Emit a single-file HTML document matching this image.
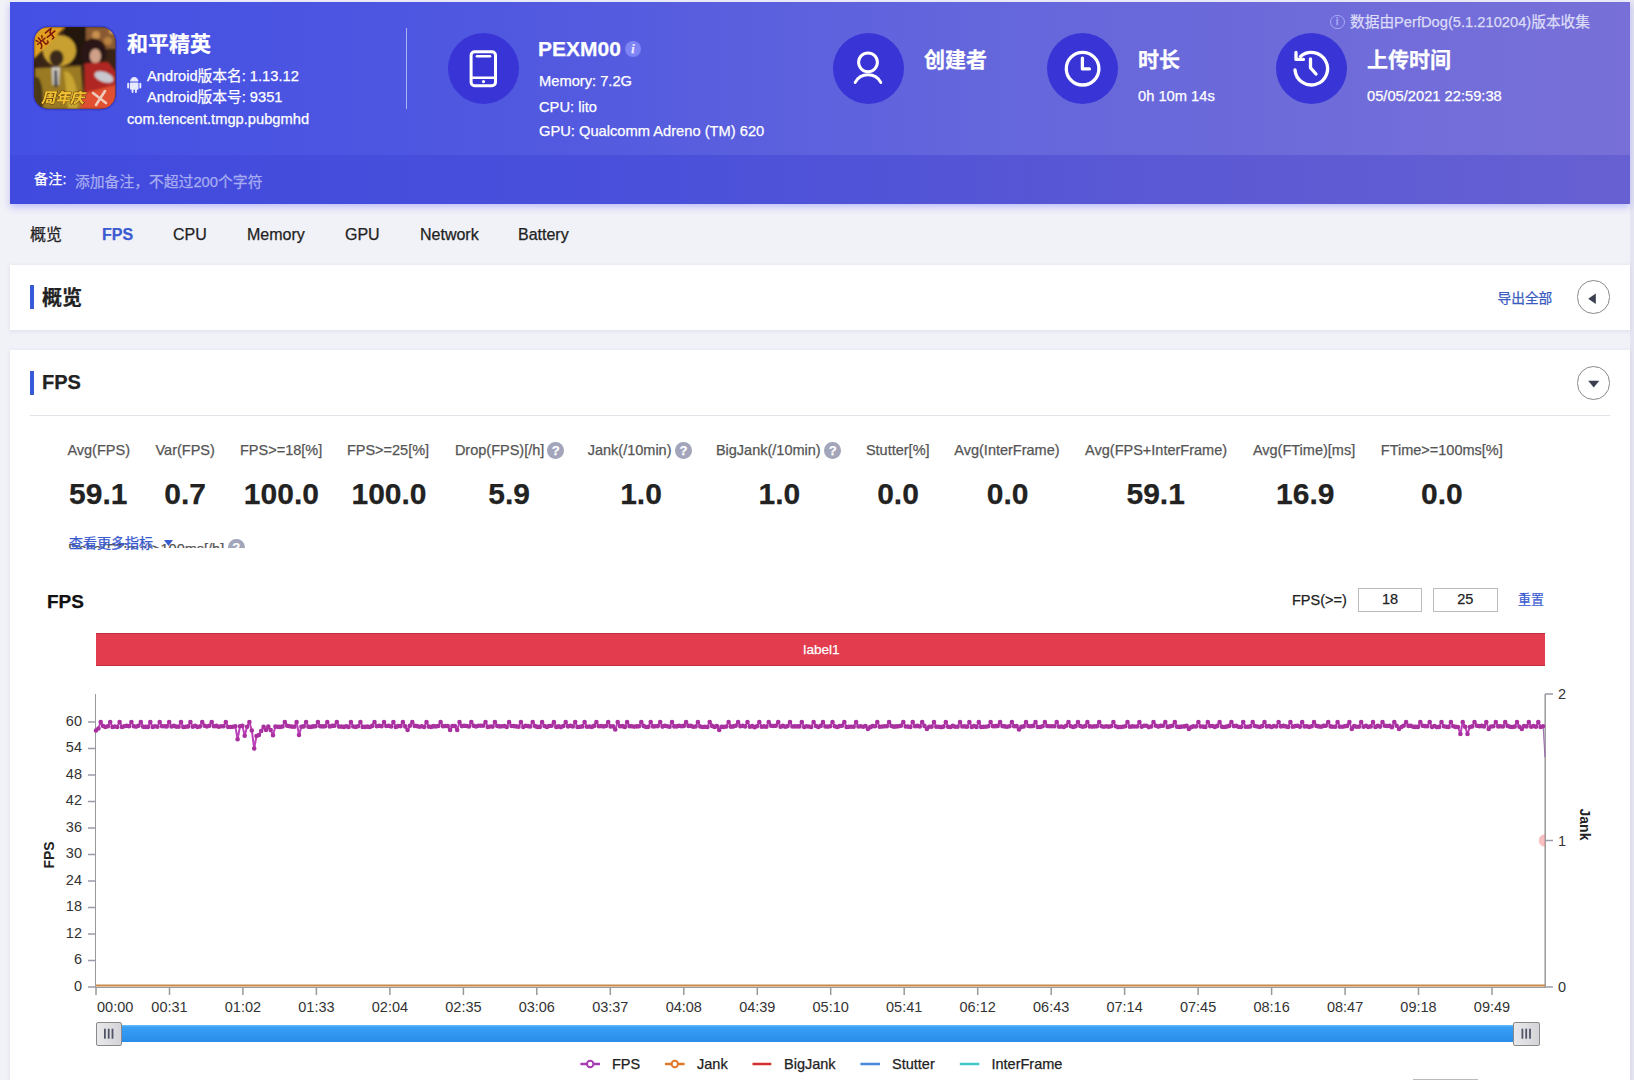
<!DOCTYPE html>
<html><head><meta charset="utf-8">
<style>
*{margin:0;padding:0;box-sizing:border-box}
html,body{width:1634px;height:1080px;overflow:hidden}
body{-webkit-text-stroke:0.25px currentColor;background:#f1f1f8;font-family:"Liberation Sans","Noto Sans CJK SC",sans-serif;color:#333;position:relative}
.abs{position:absolute;white-space:nowrap}
#hdr{position:absolute;left:10px;top:1.7px;width:1620px;height:202px;background:linear-gradient(90deg,#4450e4 0%,#5058e0 30%,#6466dc 60%,#7870d8 100%);box-shadow:0 3px 7px rgba(110,110,250,.4)}
#note{position:absolute;left:0;top:153.1px;width:1620px;height:48.9px;background:linear-gradient(90deg,#404ade 0%,#4a50da 40%,#5a58d4 70%,#6660d2 100%)}
.w{color:#fff}
.circ{position:absolute;width:71px;height:71px;border-radius:50%;background:#3834d6}
.card{position:absolute;left:10px;width:1620px;background:#fff;box-shadow:0 1px 4px rgba(120,120,170,.18)}
.bar{position:absolute;width:4px;height:24px;background:#3a5bd9}
.tab{position:absolute;top:226px;font-size:16px;color:#222}
.lbl{font-size:14.5px;color:#555;line-height:17px}
.val{font-size:30px;font-weight:bold;color:#222;line-height:34px}
.mi{text-align:center}
.mi .val{margin-top:17px}
.legend{top:1055.7px;font-size:14.5px;color:#222}
.q{width:16.5px;height:16.5px;border-radius:50%;background:#a3a6bb;color:#fff;font-size:13px;font-weight:bold;text-align:center;line-height:17px}
</style></head>
<body>
<div class="abs" style="left:1630px;top:0;width:4px;height:1080px;background:#e5e5f2"></div>
<div id="hdr">
  <div id="note"></div>
</div>

<!-- header content in page coords -->
<svg class="abs" style="left:32px;top:25px" width="86" height="86" viewBox="-2 -2 86 86">
<defs>
<clipPath id="ic"><rect x="0" y="0" width="81.5" height="82" rx="15"/></clipPath>
<filter id="bl" x="-10%" y="-10%" width="120%" height="120%"><feGaussianBlur stdDeviation="1.3"/></filter>
<filter id="bl2"><feGaussianBlur stdDeviation="0.5"/></filter>
</defs>
<rect x="-1.5" y="-1.5" width="84.5" height="85" rx="16.5" fill="#3030b8" opacity="0.55"/>
<g clip-path="url(#ic)">
<rect x="0" y="0" width="82" height="82" fill="#3a2416"/>
<g filter="url(#bl)">
<rect x="52" y="0" width="30" height="22" fill="#8a5a30"/>
<circle cx="62" cy="8" r="4" fill="#c89050"/><circle cx="74" cy="14" r="4" fill="#b88040"/><circle cx="78" cy="4" r="3" fill="#d8a060"/>
<rect x="30" y="0" width="22" height="38" fill="#22140e"/>
<path d="M1,41 L47,39 L50,82 L0,82 Z" fill="#9a7a24"/>
<path d="M1,50 C6,48 10,60 9,82 L0,82 Z" fill="#4a3818"/>
<path d="M30,44 C38,44 44,56 44,82 L34,82 Z" fill="#c8a432"/>
<ellipse cx="25.3" cy="23.6" rx="16.7" ry="15.7" fill="#c8a030"/>
<ellipse cx="22.5" cy="31" rx="7" ry="8" fill="#3a2a1a"/>
<path d="M17.5,40 L26,40 L25,58 L18.5,58 Z" fill="#cfcbc2"/>
<path d="M20.5,43 L23,43 L23.5,60 L20.5,60 Z" fill="#2a2a3a"/>
<ellipse cx="59.5" cy="25.4" rx="13" ry="13.9" fill="#2a1812"/>
<ellipse cx="61.4" cy="29.1" rx="5.6" ry="7.4" fill="#d0a088"/>
<path d="M50.3,36.5 L74.3,34.7 L82,44.9 L82,67 L50.3,67 Z" fill="#b02820"/>
<ellipse cx="70" cy="50" rx="10" ry="5" transform="rotate(20 70 50)" fill="#c8c8d0"/>
<path d="M46.6,67 L82,57.8 L82,82 L46.6,82 Z" fill="#e05030"/>
<path d="M0,0 L31,0 L0,32 Z" fill="#e0a020"/>
</g>
<g filter="url(#bl2)">
<path d="M59,66 L72,76 M71,64 L62,78" stroke="#f0d8cc" stroke-width="2.6" stroke-linecap="round" opacity="0.9"/>
<text x="6" y="22" transform="rotate(-40 6 22)" font-size="12" font-weight="bold" fill="#7a1208" font-family="'Noto Sans CJK SC',sans-serif">光子</text>
<text x="7" y="76" font-size="14.5" font-weight="900" fill="#f0c030" stroke="#4a2a08" stroke-width="0.8" paint-order="stroke" font-style="italic" font-family="'Noto Sans CJK SC',sans-serif">周年庆</text>
</g>
</g>
</svg>
<div class="abs w" style="left:127px;top:26.5px;font-size:21px;font-weight:bold">和平精英</div>
<svg class="abs" style="left:126px;top:76px" width="16" height="18" viewBox="126 76 16 18" fill="#e8e8ff">
<path d="M130,81.6 A4.25,4.5 0 0 1 138.5,81.6 Z"/>
<rect x="130" y="82.6" width="8.5" height="7.2" rx="0.8"/>
<rect x="127.2" y="82.8" width="2" height="5.6" rx="1"/>
<rect x="139.3" y="82.8" width="2" height="5.6" rx="1"/>
<rect x="131.6" y="89" width="1.9" height="4" rx="0.9"/>
<rect x="135" y="89" width="1.9" height="4" rx="0.9"/>
</svg>
<div class="abs w" style="left:147px;top:64px;font-size:14.7px">Android版本名: 1.13.12</div>
<div class="abs w" style="left:147px;top:85px;font-size:14.7px">Android版本号: 9351</div>
<div class="abs w" style="left:127px;top:111px;font-size:14.7px">com.tencent.tmgp.pubgmhd</div>
<div class="abs" style="left:406px;top:28px;width:1px;height:81px;background:rgba(255,255,255,.55)"></div>

<div class="circ" style="left:448px;top:33px"></div>
<svg class="abs" style="left:448px;top:33px" width="71" height="71" viewBox="448 33 71 71" fill="none" stroke="#fff" stroke-linecap="round">
<rect x="471.1" y="51.7" width="24.4" height="34.1" rx="3.5" stroke-width="3"/>
<line x1="477" y1="56.2" x2="490" y2="56.2" stroke-width="2.6"/>
<line x1="471.5" y1="77.8" x2="495" y2="77.8" stroke-width="2.6"/>
<circle cx="483.5" cy="81.6" r="1.6" fill="#fff" stroke="none"/>
</svg>
<div class="abs w" style="left:538px;top:37px;font-size:21px;font-weight:bold">PEXM00</div>
<div class="abs" style="left:625px;top:40.5px;width:16px;height:16px;border-radius:50%;background:#7f84f4;color:#eef;font:italic bold 12px/16px 'Liberation Serif',serif;text-align:center">i</div>
<div class="abs w" style="left:539px;top:73px;font-size:14.7px">Memory: 7.2G</div>
<div class="abs w" style="left:539px;top:98.5px;font-size:14.7px">CPU: lito</div>
<div class="abs w" style="left:539px;top:123.3px;font-size:14.7px">GPU: Qualcomm Adreno (TM) 620</div>

<div class="circ" style="left:833px;top:33px"></div>
<svg class="abs" style="left:833px;top:33px" width="71" height="71" viewBox="833 33 71 71" fill="none" stroke="#fff" stroke-linecap="round" stroke-width="3">
<circle cx="868" cy="62.3" r="9.4"/>
<path d="M855.2,82.4 A14.6,14.6 0 0 1 880.8,82.4"/>
</svg>
<div class="abs w" style="left:924px;top:43px;font-size:21px;font-weight:bold">创建者</div>

<div class="circ" style="left:1047px;top:33px"></div>
<svg class="abs" style="left:1047px;top:33px" width="71" height="71" viewBox="1047 33 71 71" fill="none" stroke="#fff" stroke-linecap="round" stroke-linejoin="round" stroke-width="3.3">
<circle cx="1082.6" cy="68.7" r="16.3"/>
<path d="M1082.4,58.2 V68.9 H1089.4"/>
</svg>
<div class="abs w" style="left:1138px;top:43px;font-size:21px;font-weight:bold">时长</div>
<div class="abs w" style="left:1138px;top:88px;font-size:14.7px">0h 10m 14s</div>

<div class="circ" style="left:1276px;top:33px"></div>
<svg class="abs" style="left:1276px;top:33px" width="71" height="71" viewBox="1276 33 71 71" fill="none" stroke="#fff" stroke-linecap="round" stroke-linejoin="round" stroke-width="3.3">
<path d="M1295,70 A16.3,16.3 0 1 0 1300.5,56.4"/>
<path d="M1296,52.5 V59.4 H1303.5"/>
<path d="M1310.5,59 V67.8 L1316,74"/>
</svg>
<div class="abs w" style="left:1367px;top:43px;font-size:21px;font-weight:bold">上传时间</div>
<div class="abs w" style="left:1367px;top:88px;font-size:14.7px">05/05/2021 22:59:38</div>

<div class="abs" style="left:1330px;top:14.5px;width:14.5px;height:14.5px;border-radius:50%;border:1.3px solid #a9a9f6;color:#a9a9f6;font:bold 10px/12px 'Liberation Sans',sans-serif;text-align:center">i</div>
<div class="abs" style="left:1350px;top:9.5px;font-size:14.7px;color:#dcdcf8">数据由PerfDog(5.1.210204)版本收集</div>

<div class="abs w" style="left:34px;top:168px;font-size:14.2px">备注:</div>
<div class="abs" style="left:75px;top:169.5px;font-size:14.8px;color:#a8acf2">添加备注，不超过200个字符</div>

<!-- tabs -->
<div class="tab" style="left:30px;top:221px">概览</div>
<div class="tab" style="left:102px;color:#3a5bd0;font-weight:bold">FPS</div>
<div class="tab" style="left:173px">CPU</div>
<div class="tab" style="left:247px">Memory</div>
<div class="tab" style="left:345px">GPU</div>
<div class="tab" style="left:420px">Network</div>
<div class="tab" style="left:518px">Battery</div>

<!-- card 1 -->
<div class="card" style="top:265px;height:65px"></div>
<div class="bar" style="left:30px;top:285px"></div>
<div class="abs" style="left:42px;top:281.5px;font-size:20px;font-weight:bold;color:#222">概览</div>
<div class="abs" style="left:1497.5px;top:286.5px;font-size:13.7px;color:#3a5bc0">导出全部</div>
<div class="abs" style="left:1576.5px;top:280.4px;width:33.5px;height:33.5px;border-radius:50%;border:1.2px solid #8a8a8a"></div>
<svg class="abs" style="left:1585px;top:290px" width="14" height="18"><path d="M3.2,8.8 L10.8,3.6 V14 Z" fill="#3a3f4f"/></svg>

<!-- card 2 -->
<div class="card" style="top:350px;height:740px"></div>
<div class="bar" style="left:30px;top:371px"></div>
<div class="abs" style="left:42px;top:371px;font-size:20px;font-weight:bold;color:#222">FPS</div>
<div class="abs" style="left:1576.5px;top:366.3px;width:33.5px;height:33.5px;border-radius:50%;border:1.2px solid #8a8a8a"></div>
<svg class="abs" style="left:1585px;top:376px" width="18" height="14"><path d="M3.2,4.7 H14.3 L8.7,11.6 Z" fill="#3a3f4f"/></svg>
<div class="abs" style="left:30px;top:415px;width:1580px;height:1px;background:#e2e2e8"></div>


<div class="abs lbl" style="left:67.4px;top:442px;width:64.1px">Avg(FPS)</div>
<div class="abs val" style="left:38.3px;top:476.7px;width:120px;text-align:center">59.1</div>
<div class="abs lbl" style="left:155.5px;top:442px;width:60.3px">Var(FPS)</div>
<div class="abs val" style="left:125.1px;top:476.7px;width:120px;text-align:center">0.7</div>
<div class="abs lbl" style="left:240.0px;top:442px;width:83.4px">FPS&gt;=18[%]</div>
<div class="abs val" style="left:221.4px;top:476.7px;width:120px;text-align:center">100.0</div>
<div class="abs lbl" style="left:346.9px;top:442px;width:84.2px">FPS&gt;=25[%]</div>
<div class="abs val" style="left:329.0px;top:476.7px;width:120px;text-align:center">100.0</div>
<div class="abs lbl" style="left:454.9px;top:442px;width:90.7px">Drop(FPS)[/h]</div>
<div class="abs q" style="left:547.4px;top:442px">?</div>
<div class="abs val" style="left:449.2px;top:476.7px;width:120px;text-align:center">5.9</div>
<div class="abs lbl" style="left:587.7px;top:442px;width:85.7px">Jank(/10min)</div>
<div class="abs q" style="left:675.2px;top:442px">?</div>
<div class="abs val" style="left:581.0px;top:476.7px;width:120px;text-align:center">1.0</div>
<div class="abs lbl" style="left:715.9px;top:442px;width:106.7px">BigJank(/10min)</div>
<div class="abs q" style="left:824.4px;top:442px">?</div>
<div class="abs val" style="left:719.4px;top:476.7px;width:120px;text-align:center">1.0</div>
<div class="abs lbl" style="left:865.9px;top:442px;width:65.1px">Stutter[%]</div>
<div class="abs val" style="left:838.0px;top:476.7px;width:120px;text-align:center">0.0</div>
<div class="abs lbl" style="left:954.3px;top:442px;width:107.4px">Avg(InterFrame)</div>
<div class="abs val" style="left:947.7px;top:476.7px;width:120px;text-align:center">0.0</div>
<div class="abs lbl" style="left:1085.1px;top:442px;width:144.2px">Avg(FPS+InterFrame)</div>
<div class="abs val" style="left:1095.7px;top:476.7px;width:120px;text-align:center">59.1</div>
<div class="abs lbl" style="left:1252.9px;top:442px;width:104.8px">Avg(FTime)[ms]</div>
<div class="abs val" style="left:1245.3px;top:476.7px;width:120px;text-align:center">16.9</div>
<div class="abs lbl" style="left:1380.8px;top:442px;width:123.7px">FTime&gt;=100ms[%]</div>
<div class="abs val" style="left:1381.9px;top:476.7px;width:120px;text-align:center">0.0</div>

<div class="abs" style="left:47px;top:590.8px;font-size:19px;font-weight:bold;color:#111">FPS</div>
<div class="abs" style="left:96px;top:633.3px;width:1449px;height:32.5px;background:#e23c4e;box-shadow:inset 0 1px 0 rgba(170,40,60,.6),inset 0 -1px 0 rgba(170,40,60,.6);color:#fff;font-size:13.6px;text-align:center;line-height:34px;padding-left:2px">label1</div>

<svg class="abs" style="left:0;top:0" width="1634" height="1080" font-family='"Liberation Sans", sans-serif'>
<line x1="95.5" y1="694" x2="95.5" y2="987.5" stroke="#999" stroke-width="1"/>
<line x1="88" y1="987.0" x2="96.0" y2="987.0" stroke="#9a9aa8" stroke-width="1.5"/>
<text x="82" y="990.5" text-anchor="end" font-size="14.5" fill="#333">0</text>
<line x1="88" y1="960.5" x2="96.0" y2="960.5" stroke="#9a9aa8" stroke-width="1.5"/>
<text x="82" y="964.0" text-anchor="end" font-size="14.5" fill="#333">6</text>
<line x1="88" y1="934.0" x2="96.0" y2="934.0" stroke="#9a9aa8" stroke-width="1.5"/>
<text x="82" y="937.5" text-anchor="end" font-size="14.5" fill="#333">12</text>
<line x1="88" y1="907.5" x2="96.0" y2="907.5" stroke="#9a9aa8" stroke-width="1.5"/>
<text x="82" y="911.0" text-anchor="end" font-size="14.5" fill="#333">18</text>
<line x1="88" y1="881.0" x2="96.0" y2="881.0" stroke="#9a9aa8" stroke-width="1.5"/>
<text x="82" y="884.5" text-anchor="end" font-size="14.5" fill="#333">24</text>
<line x1="88" y1="854.5" x2="96.0" y2="854.5" stroke="#9a9aa8" stroke-width="1.5"/>
<text x="82" y="858.0" text-anchor="end" font-size="14.5" fill="#333">30</text>
<line x1="88" y1="828.0" x2="96.0" y2="828.0" stroke="#9a9aa8" stroke-width="1.5"/>
<text x="82" y="831.5" text-anchor="end" font-size="14.5" fill="#333">36</text>
<line x1="88" y1="801.5" x2="96.0" y2="801.5" stroke="#9a9aa8" stroke-width="1.5"/>
<text x="82" y="805.0" text-anchor="end" font-size="14.5" fill="#333">42</text>
<line x1="88" y1="775.0" x2="96.0" y2="775.0" stroke="#9a9aa8" stroke-width="1.5"/>
<text x="82" y="778.5" text-anchor="end" font-size="14.5" fill="#333">48</text>
<line x1="88" y1="748.5" x2="96.0" y2="748.5" stroke="#9a9aa8" stroke-width="1.5"/>
<text x="82" y="752.0" text-anchor="end" font-size="14.5" fill="#333">54</text>
<line x1="88" y1="722.0" x2="96.0" y2="722.0" stroke="#9a9aa8" stroke-width="1.5"/>
<text x="82" y="725.5" text-anchor="end" font-size="14.5" fill="#333">60</text>
<line x1="1545.2" y1="694" x2="1545.2" y2="987.5" stroke="#999" stroke-width="1.5"/>
<line x1="1545.0" y1="694" x2="1553.0" y2="694" stroke="#9a9aa8" stroke-width="1.5"/>
<text x="1558.0" y="699" font-size="14.5" fill="#333">2</text>
<line x1="1545.0" y1="840.5" x2="1553.0" y2="840.5" stroke="#9a9aa8" stroke-width="1.5"/>
<text x="1558.0" y="845.5" font-size="14.5" fill="#333">1</text>
<line x1="1545.0" y1="987.0" x2="1553.0" y2="987.0" stroke="#9a9aa8" stroke-width="1.5"/>
<text x="1558.0" y="992.0" font-size="14.5" fill="#333">0</text>
<line x1="96.0" y1="987.5" x2="1545.0" y2="987.5" stroke="#999" stroke-width="1"/>
<line x1="96.0" y1="987.0" x2="96.0" y2="995.0" stroke="#999" stroke-width="1.5"/>
<text x="97.0" y="1012.0" font-size="14.5" fill="#333">00:00</text>
<line x1="169.5" y1="987.0" x2="169.5" y2="995.0" stroke="#999" stroke-width="1.5"/>
<text x="169.5" y="1012.0" text-anchor="middle" font-size="14.5" fill="#333">00:31</text>
<line x1="242.9" y1="987.0" x2="242.9" y2="995.0" stroke="#999" stroke-width="1.5"/>
<text x="242.9" y="1012.0" text-anchor="middle" font-size="14.5" fill="#333">01:02</text>
<line x1="316.4" y1="987.0" x2="316.4" y2="995.0" stroke="#999" stroke-width="1.5"/>
<text x="316.4" y="1012.0" text-anchor="middle" font-size="14.5" fill="#333">01:33</text>
<line x1="389.9" y1="987.0" x2="389.9" y2="995.0" stroke="#999" stroke-width="1.5"/>
<text x="389.9" y="1012.0" text-anchor="middle" font-size="14.5" fill="#333">02:04</text>
<line x1="463.4" y1="987.0" x2="463.4" y2="995.0" stroke="#999" stroke-width="1.5"/>
<text x="463.4" y="1012.0" text-anchor="middle" font-size="14.5" fill="#333">02:35</text>
<line x1="536.8" y1="987.0" x2="536.8" y2="995.0" stroke="#999" stroke-width="1.5"/>
<text x="536.8" y="1012.0" text-anchor="middle" font-size="14.5" fill="#333">03:06</text>
<line x1="610.3" y1="987.0" x2="610.3" y2="995.0" stroke="#999" stroke-width="1.5"/>
<text x="610.3" y="1012.0" text-anchor="middle" font-size="14.5" fill="#333">03:37</text>
<line x1="683.8" y1="987.0" x2="683.8" y2="995.0" stroke="#999" stroke-width="1.5"/>
<text x="683.8" y="1012.0" text-anchor="middle" font-size="14.5" fill="#333">04:08</text>
<line x1="757.3" y1="987.0" x2="757.3" y2="995.0" stroke="#999" stroke-width="1.5"/>
<text x="757.3" y="1012.0" text-anchor="middle" font-size="14.5" fill="#333">04:39</text>
<line x1="830.7" y1="987.0" x2="830.7" y2="995.0" stroke="#999" stroke-width="1.5"/>
<text x="830.7" y="1012.0" text-anchor="middle" font-size="14.5" fill="#333">05:10</text>
<line x1="904.2" y1="987.0" x2="904.2" y2="995.0" stroke="#999" stroke-width="1.5"/>
<text x="904.2" y="1012.0" text-anchor="middle" font-size="14.5" fill="#333">05:41</text>
<line x1="977.7" y1="987.0" x2="977.7" y2="995.0" stroke="#999" stroke-width="1.5"/>
<text x="977.7" y="1012.0" text-anchor="middle" font-size="14.5" fill="#333">06:12</text>
<line x1="1051.2" y1="987.0" x2="1051.2" y2="995.0" stroke="#999" stroke-width="1.5"/>
<text x="1051.2" y="1012.0" text-anchor="middle" font-size="14.5" fill="#333">06:43</text>
<line x1="1124.6" y1="987.0" x2="1124.6" y2="995.0" stroke="#999" stroke-width="1.5"/>
<text x="1124.6" y="1012.0" text-anchor="middle" font-size="14.5" fill="#333">07:14</text>
<line x1="1198.1" y1="987.0" x2="1198.1" y2="995.0" stroke="#999" stroke-width="1.5"/>
<text x="1198.1" y="1012.0" text-anchor="middle" font-size="14.5" fill="#333">07:45</text>
<line x1="1271.6" y1="987.0" x2="1271.6" y2="995.0" stroke="#999" stroke-width="1.5"/>
<text x="1271.6" y="1012.0" text-anchor="middle" font-size="14.5" fill="#333">08:16</text>
<line x1="1345.1" y1="987.0" x2="1345.1" y2="995.0" stroke="#999" stroke-width="1.5"/>
<text x="1345.1" y="1012.0" text-anchor="middle" font-size="14.5" fill="#333">08:47</text>
<line x1="1418.5" y1="987.0" x2="1418.5" y2="995.0" stroke="#999" stroke-width="1.5"/>
<text x="1418.5" y="1012.0" text-anchor="middle" font-size="14.5" fill="#333">09:18</text>
<line x1="1492.0" y1="987.0" x2="1492.0" y2="995.0" stroke="#999" stroke-width="1.5"/>
<text x="1492.0" y="1012.0" text-anchor="middle" font-size="14.5" fill="#333">09:49</text>
<line x1="96.0" y1="985.5" x2="1545.0" y2="985.5" stroke="#c8884a" stroke-width="2"/>
<line x1="1543.2" y1="726.4166666666666" x2="1545.0" y2="757.3333333333333" stroke="#a070b0" stroke-width="1.2"/>
<polyline points="96.0,730.5 98.4,728.5 100.7,722.0 103.1,726.0 105.4,727.0 107.8,726.3 110.2,722.0 112.5,727.0 114.9,726.5 117.2,727.0 119.6,722.0 122.0,727.0 124.3,726.3 126.7,725.8 129.0,726.2 131.4,722.0 133.8,726.3 136.1,726.6 138.5,725.8 140.8,722.0 143.2,726.7 145.6,726.9 147.9,726.9 150.3,722.0 152.7,726.9 155.0,726.3 157.4,726.8 159.7,722.0 162.1,726.3 164.5,726.3 166.8,726.4 169.2,722.0 171.5,726.5 173.9,725.9 176.3,726.6 178.6,726.8 181.0,722.0 183.3,727.0 185.7,726.7 188.1,726.4 190.4,722.0 192.8,726.7 195.1,725.8 197.5,726.9 199.9,726.5 202.2,722.0 204.6,725.8 206.9,726.5 209.3,725.8 211.7,722.0 214.0,726.3 216.4,725.9 218.7,726.7 221.1,726.2 223.5,726.3 225.8,722.0 228.2,727.0 230.5,727.0 232.9,726.7 235.3,726.2 237.6,739.3 240.0,726.2 242.4,725.8 244.7,735.7 247.1,726.7 249.4,722.0 251.8,730.5 254.2,748.5 256.5,736.0 258.9,735.0 261.2,731.0 263.6,726.9 266.0,730.0 268.3,726.6 270.7,730.0 273.0,735.3 275.4,726.5 277.8,726.7 280.1,726.9 282.5,726.5 284.8,722.0 287.2,725.8 289.6,726.2 291.9,726.6 294.3,726.8 296.6,722.0 299.0,735.0 301.4,726.8 303.7,726.4 306.1,722.0 308.4,726.7 310.8,726.9 313.2,726.4 315.5,726.3 317.9,722.0 320.2,726.2 322.6,726.4 325.0,726.3 327.3,722.0 329.7,726.5 332.1,725.9 334.4,725.8 336.8,722.0 339.1,726.6 341.5,726.6 343.9,726.9 346.2,726.2 348.6,727.0 350.9,722.0 353.3,726.5 355.7,726.9 358.0,726.3 360.4,722.0 362.7,726.9 365.1,726.9 367.5,726.6 369.8,727.0 372.2,725.9 374.5,722.0 376.9,726.2 379.3,725.8 381.6,726.3 384.0,722.0 386.3,726.0 388.7,725.8 391.1,726.5 393.4,722.0 395.8,726.9 398.1,726.1 400.5,726.1 402.9,722.0 405.2,726.4 407.6,730.0 409.9,725.8 412.3,722.0 414.7,725.9 417.0,726.1 419.4,726.7 421.8,726.2 424.1,727.0 426.5,722.0 428.8,726.6 431.2,726.9 433.6,726.1 435.9,726.4 438.3,726.0 440.6,722.0 443.0,726.3 445.4,726.0 447.7,726.1 450.1,730.0 452.4,726.0 454.8,726.1 457.2,730.0 459.5,722.0 461.9,726.1 464.2,725.8 466.6,726.0 469.0,726.5 471.3,722.0 473.7,725.8 476.0,726.5 478.4,725.8 480.8,725.8 483.1,725.8 485.5,722.0 487.8,726.9 490.2,726.5 492.6,726.6 494.9,722.0 497.3,726.0 499.6,726.4 502.0,726.2 504.4,726.0 506.7,727.0 509.1,722.0 511.5,726.0 513.8,726.1 516.2,726.4 518.5,726.8 520.9,722.0 523.3,727.0 525.6,725.8 528.0,726.1 530.3,726.5 532.7,722.0 535.1,726.1 537.4,726.9 539.8,726.9 542.1,722.0 544.5,726.0 546.9,726.9 549.2,726.0 551.6,725.8 553.9,722.0 556.3,726.9 558.7,726.4 561.0,727.1 563.4,726.0 565.7,722.0 568.1,726.4 570.5,725.8 572.8,726.5 575.2,722.0 577.5,727.0 579.9,726.8 582.3,726.4 584.6,722.0 587.0,726.7 589.3,726.5 591.7,726.9 594.1,725.9 596.4,722.0 598.8,726.2 601.2,726.0 603.5,726.4 605.9,726.0 608.2,722.0 610.6,726.4 613.0,726.4 615.3,729.5 617.7,722.0 620.0,726.3 622.4,726.1 624.8,726.9 627.1,722.0 629.5,726.1 631.8,726.3 634.2,726.6 636.6,726.4 638.9,726.3 641.3,722.0 643.6,725.9 646.0,727.0 648.4,726.8 650.7,722.0 653.1,726.4 655.4,726.3 657.8,726.1 660.2,722.0 662.5,726.6 664.9,725.8 667.2,726.3 669.6,726.8 672.0,722.0 674.3,726.4 676.7,726.4 679.0,725.8 681.4,726.2 683.8,725.9 686.1,722.0 688.5,725.9 690.9,725.9 693.2,726.8 695.6,726.5 697.9,722.0 700.3,726.5 702.7,727.0 705.0,726.8 707.4,727.0 709.7,722.0 712.1,725.9 714.5,726.9 716.8,726.1 719.2,730.0 721.5,726.7 723.9,726.9 726.3,726.5 728.6,722.0 731.0,726.6 733.3,726.4 735.7,725.8 738.1,722.0 740.4,726.1 742.8,725.8 745.1,726.5 747.5,722.0 749.9,726.7 752.2,726.1 754.6,727.1 756.9,726.3 759.3,722.0 761.7,726.6 764.0,726.4 766.4,726.7 768.7,722.0 771.1,725.8 773.5,726.0 775.8,725.8 778.2,722.0 780.6,726.7 782.9,725.9 785.3,726.8 787.6,726.1 790.0,722.0 792.4,726.5 794.7,726.4 797.1,726.4 799.4,726.4 801.8,722.0 804.2,727.0 806.5,726.2 808.9,726.5 811.2,727.0 813.6,722.0 816.0,726.0 818.3,727.0 820.7,725.9 823.0,722.0 825.4,726.5 827.8,726.6 830.1,726.3 832.5,722.0 834.8,726.3 837.2,727.0 839.6,726.1 841.9,725.8 844.3,722.0 846.6,727.0 849.0,726.8 851.4,726.7 853.7,726.7 856.1,722.0 858.4,726.5 860.8,726.2 863.2,726.7 865.5,726.0 867.9,729.0 870.3,727.1 872.6,726.1 875.0,726.3 877.3,722.0 879.7,726.8 882.1,726.5 884.4,726.2 886.8,726.2 889.1,722.0 891.5,726.0 893.9,726.6 896.2,726.4 898.6,726.2 900.9,725.8 903.3,722.0 905.7,726.5 908.0,726.6 910.4,727.0 912.7,722.0 915.1,726.3 917.5,725.9 919.8,726.5 922.2,722.0 924.5,725.9 926.9,729.0 929.3,726.7 931.6,726.8 934.0,722.0 936.3,726.8 938.7,726.7 941.1,727.1 943.4,726.6 945.8,722.0 948.1,726.7 950.5,727.0 952.9,725.9 955.2,726.8 957.6,726.8 960.0,722.0 962.3,726.5 964.7,726.4 967.0,726.8 969.4,722.0 971.8,727.0 974.1,726.0 976.5,726.9 978.8,722.0 981.2,727.0 983.6,726.7 985.9,726.8 988.3,726.3 990.6,722.0 993.0,726.2 995.4,726.1 997.7,725.9 1000.1,722.0 1002.4,726.1 1004.8,726.4 1007.2,726.7 1009.5,726.3 1011.9,722.0 1014.2,726.2 1016.6,726.1 1019.0,729.5 1021.3,726.9 1023.7,726.4 1026.0,722.0 1028.4,726.0 1030.8,726.3 1033.1,725.9 1035.5,722.0 1037.8,727.0 1040.2,727.0 1042.6,726.2 1044.9,722.0 1047.3,726.0 1049.7,726.3 1052.0,726.2 1054.4,726.2 1056.7,722.0 1059.1,726.7 1061.5,726.5 1063.8,727.0 1066.2,725.8 1068.5,722.0 1070.9,726.2 1073.3,727.0 1075.6,726.1 1078.0,722.0 1080.3,726.0 1082.7,726.8 1085.1,726.1 1087.4,722.0 1089.8,726.4 1092.1,726.6 1094.5,726.4 1096.9,726.2 1099.2,722.0 1101.6,726.2 1103.9,726.8 1106.3,726.3 1108.7,726.6 1111.0,726.2 1113.4,722.0 1115.7,726.3 1118.1,727.1 1120.5,727.0 1122.8,726.7 1125.2,726.2 1127.5,722.0 1129.9,726.7 1132.3,726.4 1134.6,726.5 1137.0,726.5 1139.4,722.0 1141.7,726.8 1144.1,725.8 1146.4,725.8 1148.8,727.1 1151.2,726.5 1153.5,722.0 1155.9,725.8 1158.2,726.6 1160.6,725.9 1163.0,725.8 1165.3,722.0 1167.7,726.9 1170.0,726.4 1172.4,725.8 1174.8,722.0 1177.1,726.7 1179.5,726.9 1181.8,726.6 1184.2,726.4 1186.6,725.9 1188.9,729.0 1191.3,727.1 1193.6,726.4 1196.0,726.5 1198.4,722.0 1200.7,726.5 1203.1,726.6 1205.4,726.9 1207.8,722.0 1210.2,726.1 1212.5,726.0 1214.9,726.9 1217.2,725.9 1219.6,722.0 1222.0,726.7 1224.3,727.0 1226.7,726.6 1229.1,725.9 1231.4,722.0 1233.8,726.1 1236.1,725.9 1238.5,726.7 1240.9,727.0 1243.2,722.0 1245.6,726.7 1247.9,726.7 1250.3,726.4 1252.7,722.0 1255.0,726.0 1257.4,726.5 1259.7,727.0 1262.1,726.1 1264.5,722.0 1266.8,726.4 1269.2,726.1 1271.5,727.0 1273.9,726.1 1276.3,726.5 1278.6,722.0 1281.0,726.4 1283.3,725.9 1285.7,726.4 1288.1,726.9 1290.4,722.0 1292.8,726.7 1295.1,726.1 1297.5,725.8 1299.9,726.7 1302.2,722.0 1304.6,726.4 1306.9,726.2 1309.3,726.9 1311.7,726.2 1314.0,722.0 1316.4,725.9 1318.8,726.4 1321.1,726.8 1323.5,725.9 1325.8,725.8 1328.2,722.0 1330.6,726.4 1332.9,726.8 1335.3,726.8 1337.6,722.0 1340.0,726.8 1342.4,726.7 1344.7,726.3 1347.1,725.9 1349.4,722.0 1351.8,729.0 1354.2,726.1 1356.5,726.8 1358.9,726.7 1361.2,722.0 1363.6,726.7 1366.0,725.8 1368.3,726.9 1370.7,726.4 1373.0,722.0 1375.4,727.0 1377.8,725.9 1380.1,726.6 1382.5,722.0 1384.8,725.8 1387.2,726.0 1389.6,725.9 1391.9,727.1 1394.3,722.0 1396.6,725.8 1399.0,729.0 1401.4,727.0 1403.7,725.8 1406.1,722.0 1408.5,725.9 1410.8,725.8 1413.2,726.7 1415.5,726.9 1417.9,726.9 1420.3,722.0 1422.6,725.8 1425.0,726.1 1427.3,726.2 1429.7,722.0 1432.1,727.0 1434.4,726.0 1436.8,727.1 1439.1,726.9 1441.5,722.0 1443.9,726.2 1446.2,726.7 1448.6,726.9 1450.9,722.0 1453.3,726.2 1455.7,726.9 1458.0,727.0 1460.4,734.0 1462.7,722.0 1465.1,726.7 1467.5,734.0 1469.8,727.1 1472.2,726.4 1474.5,722.0 1476.9,725.8 1479.3,726.2 1481.6,725.9 1484.0,726.4 1486.3,722.0 1488.7,729.0 1491.1,726.5 1493.4,726.2 1495.8,722.0 1498.2,726.4 1500.5,726.2 1502.9,726.5 1505.2,722.0 1507.6,725.9 1510.0,726.8 1512.3,727.0 1514.7,726.6 1517.0,722.0 1519.4,726.8 1521.8,729.0 1524.1,726.1 1526.5,726.4 1528.8,722.0 1531.2,726.7 1533.6,726.0 1535.9,726.8 1538.3,722.0 1540.6,726.9 1543.0,726.3" fill="none" stroke="#bd40bb" stroke-width="2" stroke-linejoin="round"/>
<path d="M93.7,730.5a2.3,2.3 0 1,0 4.6,0a2.3,2.3 0 1,0 -4.6,0M96.1,728.5a2.3,2.3 0 1,0 4.6,0a2.3,2.3 0 1,0 -4.6,0M98.4,722.0a2.3,2.3 0 1,0 4.6,0a2.3,2.3 0 1,0 -4.6,0M100.8,726.0a2.3,2.3 0 1,0 4.6,0a2.3,2.3 0 1,0 -4.6,0M103.1,727.0a2.3,2.3 0 1,0 4.6,0a2.3,2.3 0 1,0 -4.6,0M105.5,726.3a2.3,2.3 0 1,0 4.6,0a2.3,2.3 0 1,0 -4.6,0M107.9,722.0a2.3,2.3 0 1,0 4.6,0a2.3,2.3 0 1,0 -4.6,0M110.2,727.0a2.3,2.3 0 1,0 4.6,0a2.3,2.3 0 1,0 -4.6,0M112.6,726.5a2.3,2.3 0 1,0 4.6,0a2.3,2.3 0 1,0 -4.6,0M114.9,727.0a2.3,2.3 0 1,0 4.6,0a2.3,2.3 0 1,0 -4.6,0M117.3,722.0a2.3,2.3 0 1,0 4.6,0a2.3,2.3 0 1,0 -4.6,0M119.7,727.0a2.3,2.3 0 1,0 4.6,0a2.3,2.3 0 1,0 -4.6,0M122.0,726.3a2.3,2.3 0 1,0 4.6,0a2.3,2.3 0 1,0 -4.6,0M124.4,725.8a2.3,2.3 0 1,0 4.6,0a2.3,2.3 0 1,0 -4.6,0M126.7,726.2a2.3,2.3 0 1,0 4.6,0a2.3,2.3 0 1,0 -4.6,0M129.1,722.0a2.3,2.3 0 1,0 4.6,0a2.3,2.3 0 1,0 -4.6,0M131.5,726.3a2.3,2.3 0 1,0 4.6,0a2.3,2.3 0 1,0 -4.6,0M133.8,726.6a2.3,2.3 0 1,0 4.6,0a2.3,2.3 0 1,0 -4.6,0M136.2,725.8a2.3,2.3 0 1,0 4.6,0a2.3,2.3 0 1,0 -4.6,0M138.5,722.0a2.3,2.3 0 1,0 4.6,0a2.3,2.3 0 1,0 -4.6,0M140.9,726.7a2.3,2.3 0 1,0 4.6,0a2.3,2.3 0 1,0 -4.6,0M143.3,726.9a2.3,2.3 0 1,0 4.6,0a2.3,2.3 0 1,0 -4.6,0M145.6,726.9a2.3,2.3 0 1,0 4.6,0a2.3,2.3 0 1,0 -4.6,0M148.0,722.0a2.3,2.3 0 1,0 4.6,0a2.3,2.3 0 1,0 -4.6,0M150.4,726.9a2.3,2.3 0 1,0 4.6,0a2.3,2.3 0 1,0 -4.6,0M152.7,726.3a2.3,2.3 0 1,0 4.6,0a2.3,2.3 0 1,0 -4.6,0M155.1,726.8a2.3,2.3 0 1,0 4.6,0a2.3,2.3 0 1,0 -4.6,0M157.4,722.0a2.3,2.3 0 1,0 4.6,0a2.3,2.3 0 1,0 -4.6,0M159.8,726.3a2.3,2.3 0 1,0 4.6,0a2.3,2.3 0 1,0 -4.6,0M162.2,726.3a2.3,2.3 0 1,0 4.6,0a2.3,2.3 0 1,0 -4.6,0M164.5,726.4a2.3,2.3 0 1,0 4.6,0a2.3,2.3 0 1,0 -4.6,0M166.9,722.0a2.3,2.3 0 1,0 4.6,0a2.3,2.3 0 1,0 -4.6,0M169.2,726.5a2.3,2.3 0 1,0 4.6,0a2.3,2.3 0 1,0 -4.6,0M171.6,725.9a2.3,2.3 0 1,0 4.6,0a2.3,2.3 0 1,0 -4.6,0M174.0,726.6a2.3,2.3 0 1,0 4.6,0a2.3,2.3 0 1,0 -4.6,0M176.3,726.8a2.3,2.3 0 1,0 4.6,0a2.3,2.3 0 1,0 -4.6,0M178.7,722.0a2.3,2.3 0 1,0 4.6,0a2.3,2.3 0 1,0 -4.6,0M181.0,727.0a2.3,2.3 0 1,0 4.6,0a2.3,2.3 0 1,0 -4.6,0M183.4,726.7a2.3,2.3 0 1,0 4.6,0a2.3,2.3 0 1,0 -4.6,0M185.8,726.4a2.3,2.3 0 1,0 4.6,0a2.3,2.3 0 1,0 -4.6,0M188.1,722.0a2.3,2.3 0 1,0 4.6,0a2.3,2.3 0 1,0 -4.6,0M190.5,726.7a2.3,2.3 0 1,0 4.6,0a2.3,2.3 0 1,0 -4.6,0M192.8,725.8a2.3,2.3 0 1,0 4.6,0a2.3,2.3 0 1,0 -4.6,0M195.2,726.9a2.3,2.3 0 1,0 4.6,0a2.3,2.3 0 1,0 -4.6,0M197.6,726.5a2.3,2.3 0 1,0 4.6,0a2.3,2.3 0 1,0 -4.6,0M199.9,722.0a2.3,2.3 0 1,0 4.6,0a2.3,2.3 0 1,0 -4.6,0M202.3,725.8a2.3,2.3 0 1,0 4.6,0a2.3,2.3 0 1,0 -4.6,0M204.6,726.5a2.3,2.3 0 1,0 4.6,0a2.3,2.3 0 1,0 -4.6,0M207.0,725.8a2.3,2.3 0 1,0 4.6,0a2.3,2.3 0 1,0 -4.6,0M209.4,722.0a2.3,2.3 0 1,0 4.6,0a2.3,2.3 0 1,0 -4.6,0M211.7,726.3a2.3,2.3 0 1,0 4.6,0a2.3,2.3 0 1,0 -4.6,0M214.1,725.9a2.3,2.3 0 1,0 4.6,0a2.3,2.3 0 1,0 -4.6,0M216.4,726.7a2.3,2.3 0 1,0 4.6,0a2.3,2.3 0 1,0 -4.6,0M218.8,726.2a2.3,2.3 0 1,0 4.6,0a2.3,2.3 0 1,0 -4.6,0M221.2,726.3a2.3,2.3 0 1,0 4.6,0a2.3,2.3 0 1,0 -4.6,0M223.5,722.0a2.3,2.3 0 1,0 4.6,0a2.3,2.3 0 1,0 -4.6,0M225.9,727.0a2.3,2.3 0 1,0 4.6,0a2.3,2.3 0 1,0 -4.6,0M228.2,727.0a2.3,2.3 0 1,0 4.6,0a2.3,2.3 0 1,0 -4.6,0M230.6,726.7a2.3,2.3 0 1,0 4.6,0a2.3,2.3 0 1,0 -4.6,0M233.0,726.2a2.3,2.3 0 1,0 4.6,0a2.3,2.3 0 1,0 -4.6,0M235.3,739.3a2.3,2.3 0 1,0 4.6,0a2.3,2.3 0 1,0 -4.6,0M237.7,726.2a2.3,2.3 0 1,0 4.6,0a2.3,2.3 0 1,0 -4.6,0M240.1,725.8a2.3,2.3 0 1,0 4.6,0a2.3,2.3 0 1,0 -4.6,0M242.4,735.7a2.3,2.3 0 1,0 4.6,0a2.3,2.3 0 1,0 -4.6,0M244.8,726.7a2.3,2.3 0 1,0 4.6,0a2.3,2.3 0 1,0 -4.6,0M247.1,722.0a2.3,2.3 0 1,0 4.6,0a2.3,2.3 0 1,0 -4.6,0M249.5,730.5a2.3,2.3 0 1,0 4.6,0a2.3,2.3 0 1,0 -4.6,0M251.9,748.5a2.3,2.3 0 1,0 4.6,0a2.3,2.3 0 1,0 -4.6,0M254.2,736.0a2.3,2.3 0 1,0 4.6,0a2.3,2.3 0 1,0 -4.6,0M256.6,735.0a2.3,2.3 0 1,0 4.6,0a2.3,2.3 0 1,0 -4.6,0M258.9,731.0a2.3,2.3 0 1,0 4.6,0a2.3,2.3 0 1,0 -4.6,0M261.3,726.9a2.3,2.3 0 1,0 4.6,0a2.3,2.3 0 1,0 -4.6,0M263.7,730.0a2.3,2.3 0 1,0 4.6,0a2.3,2.3 0 1,0 -4.6,0M266.0,726.6a2.3,2.3 0 1,0 4.6,0a2.3,2.3 0 1,0 -4.6,0M268.4,730.0a2.3,2.3 0 1,0 4.6,0a2.3,2.3 0 1,0 -4.6,0M270.7,735.3a2.3,2.3 0 1,0 4.6,0a2.3,2.3 0 1,0 -4.6,0M273.1,726.5a2.3,2.3 0 1,0 4.6,0a2.3,2.3 0 1,0 -4.6,0M275.5,726.7a2.3,2.3 0 1,0 4.6,0a2.3,2.3 0 1,0 -4.6,0M277.8,726.9a2.3,2.3 0 1,0 4.6,0a2.3,2.3 0 1,0 -4.6,0M280.2,726.5a2.3,2.3 0 1,0 4.6,0a2.3,2.3 0 1,0 -4.6,0M282.5,722.0a2.3,2.3 0 1,0 4.6,0a2.3,2.3 0 1,0 -4.6,0M284.9,725.8a2.3,2.3 0 1,0 4.6,0a2.3,2.3 0 1,0 -4.6,0M287.3,726.2a2.3,2.3 0 1,0 4.6,0a2.3,2.3 0 1,0 -4.6,0M289.6,726.6a2.3,2.3 0 1,0 4.6,0a2.3,2.3 0 1,0 -4.6,0M292.0,726.8a2.3,2.3 0 1,0 4.6,0a2.3,2.3 0 1,0 -4.6,0M294.3,722.0a2.3,2.3 0 1,0 4.6,0a2.3,2.3 0 1,0 -4.6,0M296.7,735.0a2.3,2.3 0 1,0 4.6,0a2.3,2.3 0 1,0 -4.6,0M299.1,726.8a2.3,2.3 0 1,0 4.6,0a2.3,2.3 0 1,0 -4.6,0M301.4,726.4a2.3,2.3 0 1,0 4.6,0a2.3,2.3 0 1,0 -4.6,0M303.8,722.0a2.3,2.3 0 1,0 4.6,0a2.3,2.3 0 1,0 -4.6,0M306.1,726.7a2.3,2.3 0 1,0 4.6,0a2.3,2.3 0 1,0 -4.6,0M308.5,726.9a2.3,2.3 0 1,0 4.6,0a2.3,2.3 0 1,0 -4.6,0M310.9,726.4a2.3,2.3 0 1,0 4.6,0a2.3,2.3 0 1,0 -4.6,0M313.2,726.3a2.3,2.3 0 1,0 4.6,0a2.3,2.3 0 1,0 -4.6,0M315.6,722.0a2.3,2.3 0 1,0 4.6,0a2.3,2.3 0 1,0 -4.6,0M317.9,726.2a2.3,2.3 0 1,0 4.6,0a2.3,2.3 0 1,0 -4.6,0M320.3,726.4a2.3,2.3 0 1,0 4.6,0a2.3,2.3 0 1,0 -4.6,0M322.7,726.3a2.3,2.3 0 1,0 4.6,0a2.3,2.3 0 1,0 -4.6,0M325.0,722.0a2.3,2.3 0 1,0 4.6,0a2.3,2.3 0 1,0 -4.6,0M327.4,726.5a2.3,2.3 0 1,0 4.6,0a2.3,2.3 0 1,0 -4.6,0M329.8,725.9a2.3,2.3 0 1,0 4.6,0a2.3,2.3 0 1,0 -4.6,0M332.1,725.8a2.3,2.3 0 1,0 4.6,0a2.3,2.3 0 1,0 -4.6,0M334.5,722.0a2.3,2.3 0 1,0 4.6,0a2.3,2.3 0 1,0 -4.6,0M336.8,726.6a2.3,2.3 0 1,0 4.6,0a2.3,2.3 0 1,0 -4.6,0M339.2,726.6a2.3,2.3 0 1,0 4.6,0a2.3,2.3 0 1,0 -4.6,0M341.6,726.9a2.3,2.3 0 1,0 4.6,0a2.3,2.3 0 1,0 -4.6,0M343.9,726.2a2.3,2.3 0 1,0 4.6,0a2.3,2.3 0 1,0 -4.6,0M346.3,727.0a2.3,2.3 0 1,0 4.6,0a2.3,2.3 0 1,0 -4.6,0M348.6,722.0a2.3,2.3 0 1,0 4.6,0a2.3,2.3 0 1,0 -4.6,0M351.0,726.5a2.3,2.3 0 1,0 4.6,0a2.3,2.3 0 1,0 -4.6,0M353.4,726.9a2.3,2.3 0 1,0 4.6,0a2.3,2.3 0 1,0 -4.6,0M355.7,726.3a2.3,2.3 0 1,0 4.6,0a2.3,2.3 0 1,0 -4.6,0M358.1,722.0a2.3,2.3 0 1,0 4.6,0a2.3,2.3 0 1,0 -4.6,0M360.4,726.9a2.3,2.3 0 1,0 4.6,0a2.3,2.3 0 1,0 -4.6,0M362.8,726.9a2.3,2.3 0 1,0 4.6,0a2.3,2.3 0 1,0 -4.6,0M365.2,726.6a2.3,2.3 0 1,0 4.6,0a2.3,2.3 0 1,0 -4.6,0M367.5,727.0a2.3,2.3 0 1,0 4.6,0a2.3,2.3 0 1,0 -4.6,0M369.9,725.9a2.3,2.3 0 1,0 4.6,0a2.3,2.3 0 1,0 -4.6,0M372.2,722.0a2.3,2.3 0 1,0 4.6,0a2.3,2.3 0 1,0 -4.6,0M374.6,726.2a2.3,2.3 0 1,0 4.6,0a2.3,2.3 0 1,0 -4.6,0M377.0,725.8a2.3,2.3 0 1,0 4.6,0a2.3,2.3 0 1,0 -4.6,0M379.3,726.3a2.3,2.3 0 1,0 4.6,0a2.3,2.3 0 1,0 -4.6,0M381.7,722.0a2.3,2.3 0 1,0 4.6,0a2.3,2.3 0 1,0 -4.6,0M384.0,726.0a2.3,2.3 0 1,0 4.6,0a2.3,2.3 0 1,0 -4.6,0M386.4,725.8a2.3,2.3 0 1,0 4.6,0a2.3,2.3 0 1,0 -4.6,0M388.8,726.5a2.3,2.3 0 1,0 4.6,0a2.3,2.3 0 1,0 -4.6,0M391.1,722.0a2.3,2.3 0 1,0 4.6,0a2.3,2.3 0 1,0 -4.6,0M393.5,726.9a2.3,2.3 0 1,0 4.6,0a2.3,2.3 0 1,0 -4.6,0M395.8,726.1a2.3,2.3 0 1,0 4.6,0a2.3,2.3 0 1,0 -4.6,0M398.2,726.1a2.3,2.3 0 1,0 4.6,0a2.3,2.3 0 1,0 -4.6,0M400.6,722.0a2.3,2.3 0 1,0 4.6,0a2.3,2.3 0 1,0 -4.6,0M402.9,726.4a2.3,2.3 0 1,0 4.6,0a2.3,2.3 0 1,0 -4.6,0M405.3,730.0a2.3,2.3 0 1,0 4.6,0a2.3,2.3 0 1,0 -4.6,0M407.6,725.8a2.3,2.3 0 1,0 4.6,0a2.3,2.3 0 1,0 -4.6,0M410.0,722.0a2.3,2.3 0 1,0 4.6,0a2.3,2.3 0 1,0 -4.6,0M412.4,725.9a2.3,2.3 0 1,0 4.6,0a2.3,2.3 0 1,0 -4.6,0M414.7,726.1a2.3,2.3 0 1,0 4.6,0a2.3,2.3 0 1,0 -4.6,0M417.1,726.7a2.3,2.3 0 1,0 4.6,0a2.3,2.3 0 1,0 -4.6,0M419.5,726.2a2.3,2.3 0 1,0 4.6,0a2.3,2.3 0 1,0 -4.6,0M421.8,727.0a2.3,2.3 0 1,0 4.6,0a2.3,2.3 0 1,0 -4.6,0M424.2,722.0a2.3,2.3 0 1,0 4.6,0a2.3,2.3 0 1,0 -4.6,0M426.5,726.6a2.3,2.3 0 1,0 4.6,0a2.3,2.3 0 1,0 -4.6,0M428.9,726.9a2.3,2.3 0 1,0 4.6,0a2.3,2.3 0 1,0 -4.6,0M431.3,726.1a2.3,2.3 0 1,0 4.6,0a2.3,2.3 0 1,0 -4.6,0M433.6,726.4a2.3,2.3 0 1,0 4.6,0a2.3,2.3 0 1,0 -4.6,0M436.0,726.0a2.3,2.3 0 1,0 4.6,0a2.3,2.3 0 1,0 -4.6,0M438.3,722.0a2.3,2.3 0 1,0 4.6,0a2.3,2.3 0 1,0 -4.6,0M440.7,726.3a2.3,2.3 0 1,0 4.6,0a2.3,2.3 0 1,0 -4.6,0M443.1,726.0a2.3,2.3 0 1,0 4.6,0a2.3,2.3 0 1,0 -4.6,0M445.4,726.1a2.3,2.3 0 1,0 4.6,0a2.3,2.3 0 1,0 -4.6,0M447.8,730.0a2.3,2.3 0 1,0 4.6,0a2.3,2.3 0 1,0 -4.6,0M450.1,726.0a2.3,2.3 0 1,0 4.6,0a2.3,2.3 0 1,0 -4.6,0M452.5,726.1a2.3,2.3 0 1,0 4.6,0a2.3,2.3 0 1,0 -4.6,0M454.9,730.0a2.3,2.3 0 1,0 4.6,0a2.3,2.3 0 1,0 -4.6,0M457.2,722.0a2.3,2.3 0 1,0 4.6,0a2.3,2.3 0 1,0 -4.6,0M459.6,726.1a2.3,2.3 0 1,0 4.6,0a2.3,2.3 0 1,0 -4.6,0M461.9,725.8a2.3,2.3 0 1,0 4.6,0a2.3,2.3 0 1,0 -4.6,0M464.3,726.0a2.3,2.3 0 1,0 4.6,0a2.3,2.3 0 1,0 -4.6,0M466.7,726.5a2.3,2.3 0 1,0 4.6,0a2.3,2.3 0 1,0 -4.6,0M469.0,722.0a2.3,2.3 0 1,0 4.6,0a2.3,2.3 0 1,0 -4.6,0M471.4,725.8a2.3,2.3 0 1,0 4.6,0a2.3,2.3 0 1,0 -4.6,0M473.7,726.5a2.3,2.3 0 1,0 4.6,0a2.3,2.3 0 1,0 -4.6,0M476.1,725.8a2.3,2.3 0 1,0 4.6,0a2.3,2.3 0 1,0 -4.6,0M478.5,725.8a2.3,2.3 0 1,0 4.6,0a2.3,2.3 0 1,0 -4.6,0M480.8,725.8a2.3,2.3 0 1,0 4.6,0a2.3,2.3 0 1,0 -4.6,0M483.2,722.0a2.3,2.3 0 1,0 4.6,0a2.3,2.3 0 1,0 -4.6,0M485.5,726.9a2.3,2.3 0 1,0 4.6,0a2.3,2.3 0 1,0 -4.6,0M487.9,726.5a2.3,2.3 0 1,0 4.6,0a2.3,2.3 0 1,0 -4.6,0M490.3,726.6a2.3,2.3 0 1,0 4.6,0a2.3,2.3 0 1,0 -4.6,0M492.6,722.0a2.3,2.3 0 1,0 4.6,0a2.3,2.3 0 1,0 -4.6,0M495.0,726.0a2.3,2.3 0 1,0 4.6,0a2.3,2.3 0 1,0 -4.6,0M497.3,726.4a2.3,2.3 0 1,0 4.6,0a2.3,2.3 0 1,0 -4.6,0M499.7,726.2a2.3,2.3 0 1,0 4.6,0a2.3,2.3 0 1,0 -4.6,0M502.1,726.0a2.3,2.3 0 1,0 4.6,0a2.3,2.3 0 1,0 -4.6,0M504.4,727.0a2.3,2.3 0 1,0 4.6,0a2.3,2.3 0 1,0 -4.6,0M506.8,722.0a2.3,2.3 0 1,0 4.6,0a2.3,2.3 0 1,0 -4.6,0M509.2,726.0a2.3,2.3 0 1,0 4.6,0a2.3,2.3 0 1,0 -4.6,0M511.5,726.1a2.3,2.3 0 1,0 4.6,0a2.3,2.3 0 1,0 -4.6,0M513.9,726.4a2.3,2.3 0 1,0 4.6,0a2.3,2.3 0 1,0 -4.6,0M516.2,726.8a2.3,2.3 0 1,0 4.6,0a2.3,2.3 0 1,0 -4.6,0M518.6,722.0a2.3,2.3 0 1,0 4.6,0a2.3,2.3 0 1,0 -4.6,0M521.0,727.0a2.3,2.3 0 1,0 4.6,0a2.3,2.3 0 1,0 -4.6,0M523.3,725.8a2.3,2.3 0 1,0 4.6,0a2.3,2.3 0 1,0 -4.6,0M525.7,726.1a2.3,2.3 0 1,0 4.6,0a2.3,2.3 0 1,0 -4.6,0M528.0,726.5a2.3,2.3 0 1,0 4.6,0a2.3,2.3 0 1,0 -4.6,0M530.4,722.0a2.3,2.3 0 1,0 4.6,0a2.3,2.3 0 1,0 -4.6,0M532.8,726.1a2.3,2.3 0 1,0 4.6,0a2.3,2.3 0 1,0 -4.6,0M535.1,726.9a2.3,2.3 0 1,0 4.6,0a2.3,2.3 0 1,0 -4.6,0M537.5,726.9a2.3,2.3 0 1,0 4.6,0a2.3,2.3 0 1,0 -4.6,0M539.8,722.0a2.3,2.3 0 1,0 4.6,0a2.3,2.3 0 1,0 -4.6,0M542.2,726.0a2.3,2.3 0 1,0 4.6,0a2.3,2.3 0 1,0 -4.6,0M544.6,726.9a2.3,2.3 0 1,0 4.6,0a2.3,2.3 0 1,0 -4.6,0M546.9,726.0a2.3,2.3 0 1,0 4.6,0a2.3,2.3 0 1,0 -4.6,0M549.3,725.8a2.3,2.3 0 1,0 4.6,0a2.3,2.3 0 1,0 -4.6,0M551.6,722.0a2.3,2.3 0 1,0 4.6,0a2.3,2.3 0 1,0 -4.6,0M554.0,726.9a2.3,2.3 0 1,0 4.6,0a2.3,2.3 0 1,0 -4.6,0M556.4,726.4a2.3,2.3 0 1,0 4.6,0a2.3,2.3 0 1,0 -4.6,0M558.7,727.1a2.3,2.3 0 1,0 4.6,0a2.3,2.3 0 1,0 -4.6,0M561.1,726.0a2.3,2.3 0 1,0 4.6,0a2.3,2.3 0 1,0 -4.6,0M563.4,722.0a2.3,2.3 0 1,0 4.6,0a2.3,2.3 0 1,0 -4.6,0M565.8,726.4a2.3,2.3 0 1,0 4.6,0a2.3,2.3 0 1,0 -4.6,0M568.2,725.8a2.3,2.3 0 1,0 4.6,0a2.3,2.3 0 1,0 -4.6,0M570.5,726.5a2.3,2.3 0 1,0 4.6,0a2.3,2.3 0 1,0 -4.6,0M572.9,722.0a2.3,2.3 0 1,0 4.6,0a2.3,2.3 0 1,0 -4.6,0M575.2,727.0a2.3,2.3 0 1,0 4.6,0a2.3,2.3 0 1,0 -4.6,0M577.6,726.8a2.3,2.3 0 1,0 4.6,0a2.3,2.3 0 1,0 -4.6,0M580.0,726.4a2.3,2.3 0 1,0 4.6,0a2.3,2.3 0 1,0 -4.6,0M582.3,722.0a2.3,2.3 0 1,0 4.6,0a2.3,2.3 0 1,0 -4.6,0M584.7,726.7a2.3,2.3 0 1,0 4.6,0a2.3,2.3 0 1,0 -4.6,0M587.0,726.5a2.3,2.3 0 1,0 4.6,0a2.3,2.3 0 1,0 -4.6,0M589.4,726.9a2.3,2.3 0 1,0 4.6,0a2.3,2.3 0 1,0 -4.6,0M591.8,725.9a2.3,2.3 0 1,0 4.6,0a2.3,2.3 0 1,0 -4.6,0M594.1,722.0a2.3,2.3 0 1,0 4.6,0a2.3,2.3 0 1,0 -4.6,0M596.5,726.2a2.3,2.3 0 1,0 4.6,0a2.3,2.3 0 1,0 -4.6,0M598.9,726.0a2.3,2.3 0 1,0 4.6,0a2.3,2.3 0 1,0 -4.6,0M601.2,726.4a2.3,2.3 0 1,0 4.6,0a2.3,2.3 0 1,0 -4.6,0M603.6,726.0a2.3,2.3 0 1,0 4.6,0a2.3,2.3 0 1,0 -4.6,0M605.9,722.0a2.3,2.3 0 1,0 4.6,0a2.3,2.3 0 1,0 -4.6,0M608.3,726.4a2.3,2.3 0 1,0 4.6,0a2.3,2.3 0 1,0 -4.6,0M610.7,726.4a2.3,2.3 0 1,0 4.6,0a2.3,2.3 0 1,0 -4.6,0M613.0,729.5a2.3,2.3 0 1,0 4.6,0a2.3,2.3 0 1,0 -4.6,0M615.4,722.0a2.3,2.3 0 1,0 4.6,0a2.3,2.3 0 1,0 -4.6,0M617.7,726.3a2.3,2.3 0 1,0 4.6,0a2.3,2.3 0 1,0 -4.6,0M620.1,726.1a2.3,2.3 0 1,0 4.6,0a2.3,2.3 0 1,0 -4.6,0M622.5,726.9a2.3,2.3 0 1,0 4.6,0a2.3,2.3 0 1,0 -4.6,0M624.8,722.0a2.3,2.3 0 1,0 4.6,0a2.3,2.3 0 1,0 -4.6,0M627.2,726.1a2.3,2.3 0 1,0 4.6,0a2.3,2.3 0 1,0 -4.6,0M629.5,726.3a2.3,2.3 0 1,0 4.6,0a2.3,2.3 0 1,0 -4.6,0M631.9,726.6a2.3,2.3 0 1,0 4.6,0a2.3,2.3 0 1,0 -4.6,0M634.3,726.4a2.3,2.3 0 1,0 4.6,0a2.3,2.3 0 1,0 -4.6,0M636.6,726.3a2.3,2.3 0 1,0 4.6,0a2.3,2.3 0 1,0 -4.6,0M639.0,722.0a2.3,2.3 0 1,0 4.6,0a2.3,2.3 0 1,0 -4.6,0M641.3,725.9a2.3,2.3 0 1,0 4.6,0a2.3,2.3 0 1,0 -4.6,0M643.7,727.0a2.3,2.3 0 1,0 4.6,0a2.3,2.3 0 1,0 -4.6,0M646.1,726.8a2.3,2.3 0 1,0 4.6,0a2.3,2.3 0 1,0 -4.6,0M648.4,722.0a2.3,2.3 0 1,0 4.6,0a2.3,2.3 0 1,0 -4.6,0M650.8,726.4a2.3,2.3 0 1,0 4.6,0a2.3,2.3 0 1,0 -4.6,0M653.1,726.3a2.3,2.3 0 1,0 4.6,0a2.3,2.3 0 1,0 -4.6,0M655.5,726.1a2.3,2.3 0 1,0 4.6,0a2.3,2.3 0 1,0 -4.6,0M657.9,722.0a2.3,2.3 0 1,0 4.6,0a2.3,2.3 0 1,0 -4.6,0M660.2,726.6a2.3,2.3 0 1,0 4.6,0a2.3,2.3 0 1,0 -4.6,0M662.6,725.8a2.3,2.3 0 1,0 4.6,0a2.3,2.3 0 1,0 -4.6,0M664.9,726.3a2.3,2.3 0 1,0 4.6,0a2.3,2.3 0 1,0 -4.6,0M667.3,726.8a2.3,2.3 0 1,0 4.6,0a2.3,2.3 0 1,0 -4.6,0M669.7,722.0a2.3,2.3 0 1,0 4.6,0a2.3,2.3 0 1,0 -4.6,0M672.0,726.4a2.3,2.3 0 1,0 4.6,0a2.3,2.3 0 1,0 -4.6,0M674.4,726.4a2.3,2.3 0 1,0 4.6,0a2.3,2.3 0 1,0 -4.6,0M676.7,725.8a2.3,2.3 0 1,0 4.6,0a2.3,2.3 0 1,0 -4.6,0M679.1,726.2a2.3,2.3 0 1,0 4.6,0a2.3,2.3 0 1,0 -4.6,0M681.5,725.9a2.3,2.3 0 1,0 4.6,0a2.3,2.3 0 1,0 -4.6,0M683.8,722.0a2.3,2.3 0 1,0 4.6,0a2.3,2.3 0 1,0 -4.6,0M686.2,725.9a2.3,2.3 0 1,0 4.6,0a2.3,2.3 0 1,0 -4.6,0M688.6,725.9a2.3,2.3 0 1,0 4.6,0a2.3,2.3 0 1,0 -4.6,0M690.9,726.8a2.3,2.3 0 1,0 4.6,0a2.3,2.3 0 1,0 -4.6,0M693.3,726.5a2.3,2.3 0 1,0 4.6,0a2.3,2.3 0 1,0 -4.6,0M695.6,722.0a2.3,2.3 0 1,0 4.6,0a2.3,2.3 0 1,0 -4.6,0M698.0,726.5a2.3,2.3 0 1,0 4.6,0a2.3,2.3 0 1,0 -4.6,0M700.4,727.0a2.3,2.3 0 1,0 4.6,0a2.3,2.3 0 1,0 -4.6,0M702.7,726.8a2.3,2.3 0 1,0 4.6,0a2.3,2.3 0 1,0 -4.6,0M705.1,727.0a2.3,2.3 0 1,0 4.6,0a2.3,2.3 0 1,0 -4.6,0M707.4,722.0a2.3,2.3 0 1,0 4.6,0a2.3,2.3 0 1,0 -4.6,0M709.8,725.9a2.3,2.3 0 1,0 4.6,0a2.3,2.3 0 1,0 -4.6,0M712.2,726.9a2.3,2.3 0 1,0 4.6,0a2.3,2.3 0 1,0 -4.6,0M714.5,726.1a2.3,2.3 0 1,0 4.6,0a2.3,2.3 0 1,0 -4.6,0M716.9,730.0a2.3,2.3 0 1,0 4.6,0a2.3,2.3 0 1,0 -4.6,0M719.2,726.7a2.3,2.3 0 1,0 4.6,0a2.3,2.3 0 1,0 -4.6,0M721.6,726.9a2.3,2.3 0 1,0 4.6,0a2.3,2.3 0 1,0 -4.6,0M724.0,726.5a2.3,2.3 0 1,0 4.6,0a2.3,2.3 0 1,0 -4.6,0M726.3,722.0a2.3,2.3 0 1,0 4.6,0a2.3,2.3 0 1,0 -4.6,0M728.7,726.6a2.3,2.3 0 1,0 4.6,0a2.3,2.3 0 1,0 -4.6,0M731.0,726.4a2.3,2.3 0 1,0 4.6,0a2.3,2.3 0 1,0 -4.6,0M733.4,725.8a2.3,2.3 0 1,0 4.6,0a2.3,2.3 0 1,0 -4.6,0M735.8,722.0a2.3,2.3 0 1,0 4.6,0a2.3,2.3 0 1,0 -4.6,0M738.1,726.1a2.3,2.3 0 1,0 4.6,0a2.3,2.3 0 1,0 -4.6,0M740.5,725.8a2.3,2.3 0 1,0 4.6,0a2.3,2.3 0 1,0 -4.6,0M742.8,726.5a2.3,2.3 0 1,0 4.6,0a2.3,2.3 0 1,0 -4.6,0M745.2,722.0a2.3,2.3 0 1,0 4.6,0a2.3,2.3 0 1,0 -4.6,0M747.6,726.7a2.3,2.3 0 1,0 4.6,0a2.3,2.3 0 1,0 -4.6,0M749.9,726.1a2.3,2.3 0 1,0 4.6,0a2.3,2.3 0 1,0 -4.6,0M752.3,727.1a2.3,2.3 0 1,0 4.6,0a2.3,2.3 0 1,0 -4.6,0M754.6,726.3a2.3,2.3 0 1,0 4.6,0a2.3,2.3 0 1,0 -4.6,0M757.0,722.0a2.3,2.3 0 1,0 4.6,0a2.3,2.3 0 1,0 -4.6,0M759.4,726.6a2.3,2.3 0 1,0 4.6,0a2.3,2.3 0 1,0 -4.6,0M761.7,726.4a2.3,2.3 0 1,0 4.6,0a2.3,2.3 0 1,0 -4.6,0M764.1,726.7a2.3,2.3 0 1,0 4.6,0a2.3,2.3 0 1,0 -4.6,0M766.4,722.0a2.3,2.3 0 1,0 4.6,0a2.3,2.3 0 1,0 -4.6,0M768.8,725.8a2.3,2.3 0 1,0 4.6,0a2.3,2.3 0 1,0 -4.6,0M771.2,726.0a2.3,2.3 0 1,0 4.6,0a2.3,2.3 0 1,0 -4.6,0M773.5,725.8a2.3,2.3 0 1,0 4.6,0a2.3,2.3 0 1,0 -4.6,0M775.9,722.0a2.3,2.3 0 1,0 4.6,0a2.3,2.3 0 1,0 -4.6,0M778.3,726.7a2.3,2.3 0 1,0 4.6,0a2.3,2.3 0 1,0 -4.6,0M780.6,725.9a2.3,2.3 0 1,0 4.6,0a2.3,2.3 0 1,0 -4.6,0M783.0,726.8a2.3,2.3 0 1,0 4.6,0a2.3,2.3 0 1,0 -4.6,0M785.3,726.1a2.3,2.3 0 1,0 4.6,0a2.3,2.3 0 1,0 -4.6,0M787.7,722.0a2.3,2.3 0 1,0 4.6,0a2.3,2.3 0 1,0 -4.6,0M790.1,726.5a2.3,2.3 0 1,0 4.6,0a2.3,2.3 0 1,0 -4.6,0M792.4,726.4a2.3,2.3 0 1,0 4.6,0a2.3,2.3 0 1,0 -4.6,0M794.8,726.4a2.3,2.3 0 1,0 4.6,0a2.3,2.3 0 1,0 -4.6,0M797.1,726.4a2.3,2.3 0 1,0 4.6,0a2.3,2.3 0 1,0 -4.6,0M799.5,722.0a2.3,2.3 0 1,0 4.6,0a2.3,2.3 0 1,0 -4.6,0M801.9,727.0a2.3,2.3 0 1,0 4.6,0a2.3,2.3 0 1,0 -4.6,0M804.2,726.2a2.3,2.3 0 1,0 4.6,0a2.3,2.3 0 1,0 -4.6,0M806.6,726.5a2.3,2.3 0 1,0 4.6,0a2.3,2.3 0 1,0 -4.6,0M808.9,727.0a2.3,2.3 0 1,0 4.6,0a2.3,2.3 0 1,0 -4.6,0M811.3,722.0a2.3,2.3 0 1,0 4.6,0a2.3,2.3 0 1,0 -4.6,0M813.7,726.0a2.3,2.3 0 1,0 4.6,0a2.3,2.3 0 1,0 -4.6,0M816.0,727.0a2.3,2.3 0 1,0 4.6,0a2.3,2.3 0 1,0 -4.6,0M818.4,725.9a2.3,2.3 0 1,0 4.6,0a2.3,2.3 0 1,0 -4.6,0M820.7,722.0a2.3,2.3 0 1,0 4.6,0a2.3,2.3 0 1,0 -4.6,0M823.1,726.5a2.3,2.3 0 1,0 4.6,0a2.3,2.3 0 1,0 -4.6,0M825.5,726.6a2.3,2.3 0 1,0 4.6,0a2.3,2.3 0 1,0 -4.6,0M827.8,726.3a2.3,2.3 0 1,0 4.6,0a2.3,2.3 0 1,0 -4.6,0M830.2,722.0a2.3,2.3 0 1,0 4.6,0a2.3,2.3 0 1,0 -4.6,0M832.5,726.3a2.3,2.3 0 1,0 4.6,0a2.3,2.3 0 1,0 -4.6,0M834.9,727.0a2.3,2.3 0 1,0 4.6,0a2.3,2.3 0 1,0 -4.6,0M837.3,726.1a2.3,2.3 0 1,0 4.6,0a2.3,2.3 0 1,0 -4.6,0M839.6,725.8a2.3,2.3 0 1,0 4.6,0a2.3,2.3 0 1,0 -4.6,0M842.0,722.0a2.3,2.3 0 1,0 4.6,0a2.3,2.3 0 1,0 -4.6,0M844.3,727.0a2.3,2.3 0 1,0 4.6,0a2.3,2.3 0 1,0 -4.6,0M846.7,726.8a2.3,2.3 0 1,0 4.6,0a2.3,2.3 0 1,0 -4.6,0M849.1,726.7a2.3,2.3 0 1,0 4.6,0a2.3,2.3 0 1,0 -4.6,0M851.4,726.7a2.3,2.3 0 1,0 4.6,0a2.3,2.3 0 1,0 -4.6,0M853.8,722.0a2.3,2.3 0 1,0 4.6,0a2.3,2.3 0 1,0 -4.6,0M856.1,726.5a2.3,2.3 0 1,0 4.6,0a2.3,2.3 0 1,0 -4.6,0M858.5,726.2a2.3,2.3 0 1,0 4.6,0a2.3,2.3 0 1,0 -4.6,0M860.9,726.7a2.3,2.3 0 1,0 4.6,0a2.3,2.3 0 1,0 -4.6,0M863.2,726.0a2.3,2.3 0 1,0 4.6,0a2.3,2.3 0 1,0 -4.6,0M865.6,729.0a2.3,2.3 0 1,0 4.6,0a2.3,2.3 0 1,0 -4.6,0M868.0,727.1a2.3,2.3 0 1,0 4.6,0a2.3,2.3 0 1,0 -4.6,0M870.3,726.1a2.3,2.3 0 1,0 4.6,0a2.3,2.3 0 1,0 -4.6,0M872.7,726.3a2.3,2.3 0 1,0 4.6,0a2.3,2.3 0 1,0 -4.6,0M875.0,722.0a2.3,2.3 0 1,0 4.6,0a2.3,2.3 0 1,0 -4.6,0M877.4,726.8a2.3,2.3 0 1,0 4.6,0a2.3,2.3 0 1,0 -4.6,0M879.8,726.5a2.3,2.3 0 1,0 4.6,0a2.3,2.3 0 1,0 -4.6,0M882.1,726.2a2.3,2.3 0 1,0 4.6,0a2.3,2.3 0 1,0 -4.6,0M884.5,726.2a2.3,2.3 0 1,0 4.6,0a2.3,2.3 0 1,0 -4.6,0M886.8,722.0a2.3,2.3 0 1,0 4.6,0a2.3,2.3 0 1,0 -4.6,0M889.2,726.0a2.3,2.3 0 1,0 4.6,0a2.3,2.3 0 1,0 -4.6,0M891.6,726.6a2.3,2.3 0 1,0 4.6,0a2.3,2.3 0 1,0 -4.6,0M893.9,726.4a2.3,2.3 0 1,0 4.6,0a2.3,2.3 0 1,0 -4.6,0M896.3,726.2a2.3,2.3 0 1,0 4.6,0a2.3,2.3 0 1,0 -4.6,0M898.6,725.8a2.3,2.3 0 1,0 4.6,0a2.3,2.3 0 1,0 -4.6,0M901.0,722.0a2.3,2.3 0 1,0 4.6,0a2.3,2.3 0 1,0 -4.6,0M903.4,726.5a2.3,2.3 0 1,0 4.6,0a2.3,2.3 0 1,0 -4.6,0M905.7,726.6a2.3,2.3 0 1,0 4.6,0a2.3,2.3 0 1,0 -4.6,0M908.1,727.0a2.3,2.3 0 1,0 4.6,0a2.3,2.3 0 1,0 -4.6,0M910.4,722.0a2.3,2.3 0 1,0 4.6,0a2.3,2.3 0 1,0 -4.6,0M912.8,726.3a2.3,2.3 0 1,0 4.6,0a2.3,2.3 0 1,0 -4.6,0M915.2,725.9a2.3,2.3 0 1,0 4.6,0a2.3,2.3 0 1,0 -4.6,0M917.5,726.5a2.3,2.3 0 1,0 4.6,0a2.3,2.3 0 1,0 -4.6,0M919.9,722.0a2.3,2.3 0 1,0 4.6,0a2.3,2.3 0 1,0 -4.6,0M922.2,725.9a2.3,2.3 0 1,0 4.6,0a2.3,2.3 0 1,0 -4.6,0M924.6,729.0a2.3,2.3 0 1,0 4.6,0a2.3,2.3 0 1,0 -4.6,0M927.0,726.7a2.3,2.3 0 1,0 4.6,0a2.3,2.3 0 1,0 -4.6,0M929.3,726.8a2.3,2.3 0 1,0 4.6,0a2.3,2.3 0 1,0 -4.6,0M931.7,722.0a2.3,2.3 0 1,0 4.6,0a2.3,2.3 0 1,0 -4.6,0M934.0,726.8a2.3,2.3 0 1,0 4.6,0a2.3,2.3 0 1,0 -4.6,0M936.4,726.7a2.3,2.3 0 1,0 4.6,0a2.3,2.3 0 1,0 -4.6,0M938.8,727.1a2.3,2.3 0 1,0 4.6,0a2.3,2.3 0 1,0 -4.6,0M941.1,726.6a2.3,2.3 0 1,0 4.6,0a2.3,2.3 0 1,0 -4.6,0M943.5,722.0a2.3,2.3 0 1,0 4.6,0a2.3,2.3 0 1,0 -4.6,0M945.8,726.7a2.3,2.3 0 1,0 4.6,0a2.3,2.3 0 1,0 -4.6,0M948.2,727.0a2.3,2.3 0 1,0 4.6,0a2.3,2.3 0 1,0 -4.6,0M950.6,725.9a2.3,2.3 0 1,0 4.6,0a2.3,2.3 0 1,0 -4.6,0M952.9,726.8a2.3,2.3 0 1,0 4.6,0a2.3,2.3 0 1,0 -4.6,0M955.3,726.8a2.3,2.3 0 1,0 4.6,0a2.3,2.3 0 1,0 -4.6,0M957.7,722.0a2.3,2.3 0 1,0 4.6,0a2.3,2.3 0 1,0 -4.6,0M960.0,726.5a2.3,2.3 0 1,0 4.6,0a2.3,2.3 0 1,0 -4.6,0M962.4,726.4a2.3,2.3 0 1,0 4.6,0a2.3,2.3 0 1,0 -4.6,0M964.7,726.8a2.3,2.3 0 1,0 4.6,0a2.3,2.3 0 1,0 -4.6,0M967.1,722.0a2.3,2.3 0 1,0 4.6,0a2.3,2.3 0 1,0 -4.6,0M969.5,727.0a2.3,2.3 0 1,0 4.6,0a2.3,2.3 0 1,0 -4.6,0M971.8,726.0a2.3,2.3 0 1,0 4.6,0a2.3,2.3 0 1,0 -4.6,0M974.2,726.9a2.3,2.3 0 1,0 4.6,0a2.3,2.3 0 1,0 -4.6,0M976.5,722.0a2.3,2.3 0 1,0 4.6,0a2.3,2.3 0 1,0 -4.6,0M978.9,727.0a2.3,2.3 0 1,0 4.6,0a2.3,2.3 0 1,0 -4.6,0M981.3,726.7a2.3,2.3 0 1,0 4.6,0a2.3,2.3 0 1,0 -4.6,0M983.6,726.8a2.3,2.3 0 1,0 4.6,0a2.3,2.3 0 1,0 -4.6,0M986.0,726.3a2.3,2.3 0 1,0 4.6,0a2.3,2.3 0 1,0 -4.6,0M988.3,722.0a2.3,2.3 0 1,0 4.6,0a2.3,2.3 0 1,0 -4.6,0M990.7,726.2a2.3,2.3 0 1,0 4.6,0a2.3,2.3 0 1,0 -4.6,0M993.1,726.1a2.3,2.3 0 1,0 4.6,0a2.3,2.3 0 1,0 -4.6,0M995.4,725.9a2.3,2.3 0 1,0 4.6,0a2.3,2.3 0 1,0 -4.6,0M997.8,722.0a2.3,2.3 0 1,0 4.6,0a2.3,2.3 0 1,0 -4.6,0M1000.1,726.1a2.3,2.3 0 1,0 4.6,0a2.3,2.3 0 1,0 -4.6,0M1002.5,726.4a2.3,2.3 0 1,0 4.6,0a2.3,2.3 0 1,0 -4.6,0M1004.9,726.7a2.3,2.3 0 1,0 4.6,0a2.3,2.3 0 1,0 -4.6,0M1007.2,726.3a2.3,2.3 0 1,0 4.6,0a2.3,2.3 0 1,0 -4.6,0M1009.6,722.0a2.3,2.3 0 1,0 4.6,0a2.3,2.3 0 1,0 -4.6,0M1011.9,726.2a2.3,2.3 0 1,0 4.6,0a2.3,2.3 0 1,0 -4.6,0M1014.3,726.1a2.3,2.3 0 1,0 4.6,0a2.3,2.3 0 1,0 -4.6,0M1016.7,729.5a2.3,2.3 0 1,0 4.6,0a2.3,2.3 0 1,0 -4.6,0M1019.0,726.9a2.3,2.3 0 1,0 4.6,0a2.3,2.3 0 1,0 -4.6,0M1021.4,726.4a2.3,2.3 0 1,0 4.6,0a2.3,2.3 0 1,0 -4.6,0M1023.7,722.0a2.3,2.3 0 1,0 4.6,0a2.3,2.3 0 1,0 -4.6,0M1026.1,726.0a2.3,2.3 0 1,0 4.6,0a2.3,2.3 0 1,0 -4.6,0M1028.5,726.3a2.3,2.3 0 1,0 4.6,0a2.3,2.3 0 1,0 -4.6,0M1030.8,725.9a2.3,2.3 0 1,0 4.6,0a2.3,2.3 0 1,0 -4.6,0M1033.2,722.0a2.3,2.3 0 1,0 4.6,0a2.3,2.3 0 1,0 -4.6,0M1035.5,727.0a2.3,2.3 0 1,0 4.6,0a2.3,2.3 0 1,0 -4.6,0M1037.9,727.0a2.3,2.3 0 1,0 4.6,0a2.3,2.3 0 1,0 -4.6,0M1040.3,726.2a2.3,2.3 0 1,0 4.6,0a2.3,2.3 0 1,0 -4.6,0M1042.6,722.0a2.3,2.3 0 1,0 4.6,0a2.3,2.3 0 1,0 -4.6,0M1045.0,726.0a2.3,2.3 0 1,0 4.6,0a2.3,2.3 0 1,0 -4.6,0M1047.4,726.3a2.3,2.3 0 1,0 4.6,0a2.3,2.3 0 1,0 -4.6,0M1049.7,726.2a2.3,2.3 0 1,0 4.6,0a2.3,2.3 0 1,0 -4.6,0M1052.1,726.2a2.3,2.3 0 1,0 4.6,0a2.3,2.3 0 1,0 -4.6,0M1054.4,722.0a2.3,2.3 0 1,0 4.6,0a2.3,2.3 0 1,0 -4.6,0M1056.8,726.7a2.3,2.3 0 1,0 4.6,0a2.3,2.3 0 1,0 -4.6,0M1059.2,726.5a2.3,2.3 0 1,0 4.6,0a2.3,2.3 0 1,0 -4.6,0M1061.5,727.0a2.3,2.3 0 1,0 4.6,0a2.3,2.3 0 1,0 -4.6,0M1063.9,725.8a2.3,2.3 0 1,0 4.6,0a2.3,2.3 0 1,0 -4.6,0M1066.2,722.0a2.3,2.3 0 1,0 4.6,0a2.3,2.3 0 1,0 -4.6,0M1068.6,726.2a2.3,2.3 0 1,0 4.6,0a2.3,2.3 0 1,0 -4.6,0M1071.0,727.0a2.3,2.3 0 1,0 4.6,0a2.3,2.3 0 1,0 -4.6,0M1073.3,726.1a2.3,2.3 0 1,0 4.6,0a2.3,2.3 0 1,0 -4.6,0M1075.7,722.0a2.3,2.3 0 1,0 4.6,0a2.3,2.3 0 1,0 -4.6,0M1078.0,726.0a2.3,2.3 0 1,0 4.6,0a2.3,2.3 0 1,0 -4.6,0M1080.4,726.8a2.3,2.3 0 1,0 4.6,0a2.3,2.3 0 1,0 -4.6,0M1082.8,726.1a2.3,2.3 0 1,0 4.6,0a2.3,2.3 0 1,0 -4.6,0M1085.1,722.0a2.3,2.3 0 1,0 4.6,0a2.3,2.3 0 1,0 -4.6,0M1087.5,726.4a2.3,2.3 0 1,0 4.6,0a2.3,2.3 0 1,0 -4.6,0M1089.8,726.6a2.3,2.3 0 1,0 4.6,0a2.3,2.3 0 1,0 -4.6,0M1092.2,726.4a2.3,2.3 0 1,0 4.6,0a2.3,2.3 0 1,0 -4.6,0M1094.6,726.2a2.3,2.3 0 1,0 4.6,0a2.3,2.3 0 1,0 -4.6,0M1096.9,722.0a2.3,2.3 0 1,0 4.6,0a2.3,2.3 0 1,0 -4.6,0M1099.3,726.2a2.3,2.3 0 1,0 4.6,0a2.3,2.3 0 1,0 -4.6,0M1101.6,726.8a2.3,2.3 0 1,0 4.6,0a2.3,2.3 0 1,0 -4.6,0M1104.0,726.3a2.3,2.3 0 1,0 4.6,0a2.3,2.3 0 1,0 -4.6,0M1106.4,726.6a2.3,2.3 0 1,0 4.6,0a2.3,2.3 0 1,0 -4.6,0M1108.7,726.2a2.3,2.3 0 1,0 4.6,0a2.3,2.3 0 1,0 -4.6,0M1111.1,722.0a2.3,2.3 0 1,0 4.6,0a2.3,2.3 0 1,0 -4.6,0M1113.4,726.3a2.3,2.3 0 1,0 4.6,0a2.3,2.3 0 1,0 -4.6,0M1115.8,727.1a2.3,2.3 0 1,0 4.6,0a2.3,2.3 0 1,0 -4.6,0M1118.2,727.0a2.3,2.3 0 1,0 4.6,0a2.3,2.3 0 1,0 -4.6,0M1120.5,726.7a2.3,2.3 0 1,0 4.6,0a2.3,2.3 0 1,0 -4.6,0M1122.9,726.2a2.3,2.3 0 1,0 4.6,0a2.3,2.3 0 1,0 -4.6,0M1125.2,722.0a2.3,2.3 0 1,0 4.6,0a2.3,2.3 0 1,0 -4.6,0M1127.6,726.7a2.3,2.3 0 1,0 4.6,0a2.3,2.3 0 1,0 -4.6,0M1130.0,726.4a2.3,2.3 0 1,0 4.6,0a2.3,2.3 0 1,0 -4.6,0M1132.3,726.5a2.3,2.3 0 1,0 4.6,0a2.3,2.3 0 1,0 -4.6,0M1134.7,726.5a2.3,2.3 0 1,0 4.6,0a2.3,2.3 0 1,0 -4.6,0M1137.1,722.0a2.3,2.3 0 1,0 4.6,0a2.3,2.3 0 1,0 -4.6,0M1139.4,726.8a2.3,2.3 0 1,0 4.6,0a2.3,2.3 0 1,0 -4.6,0M1141.8,725.8a2.3,2.3 0 1,0 4.6,0a2.3,2.3 0 1,0 -4.6,0M1144.1,725.8a2.3,2.3 0 1,0 4.6,0a2.3,2.3 0 1,0 -4.6,0M1146.5,727.1a2.3,2.3 0 1,0 4.6,0a2.3,2.3 0 1,0 -4.6,0M1148.9,726.5a2.3,2.3 0 1,0 4.6,0a2.3,2.3 0 1,0 -4.6,0M1151.2,722.0a2.3,2.3 0 1,0 4.6,0a2.3,2.3 0 1,0 -4.6,0M1153.6,725.8a2.3,2.3 0 1,0 4.6,0a2.3,2.3 0 1,0 -4.6,0M1155.9,726.6a2.3,2.3 0 1,0 4.6,0a2.3,2.3 0 1,0 -4.6,0M1158.3,725.9a2.3,2.3 0 1,0 4.6,0a2.3,2.3 0 1,0 -4.6,0M1160.7,725.8a2.3,2.3 0 1,0 4.6,0a2.3,2.3 0 1,0 -4.6,0M1163.0,722.0a2.3,2.3 0 1,0 4.6,0a2.3,2.3 0 1,0 -4.6,0M1165.4,726.9a2.3,2.3 0 1,0 4.6,0a2.3,2.3 0 1,0 -4.6,0M1167.7,726.4a2.3,2.3 0 1,0 4.6,0a2.3,2.3 0 1,0 -4.6,0M1170.1,725.8a2.3,2.3 0 1,0 4.6,0a2.3,2.3 0 1,0 -4.6,0M1172.5,722.0a2.3,2.3 0 1,0 4.6,0a2.3,2.3 0 1,0 -4.6,0M1174.8,726.7a2.3,2.3 0 1,0 4.6,0a2.3,2.3 0 1,0 -4.6,0M1177.2,726.9a2.3,2.3 0 1,0 4.6,0a2.3,2.3 0 1,0 -4.6,0M1179.5,726.6a2.3,2.3 0 1,0 4.6,0a2.3,2.3 0 1,0 -4.6,0M1181.9,726.4a2.3,2.3 0 1,0 4.6,0a2.3,2.3 0 1,0 -4.6,0M1184.3,725.9a2.3,2.3 0 1,0 4.6,0a2.3,2.3 0 1,0 -4.6,0M1186.6,729.0a2.3,2.3 0 1,0 4.6,0a2.3,2.3 0 1,0 -4.6,0M1189.0,727.1a2.3,2.3 0 1,0 4.6,0a2.3,2.3 0 1,0 -4.6,0M1191.3,726.4a2.3,2.3 0 1,0 4.6,0a2.3,2.3 0 1,0 -4.6,0M1193.7,726.5a2.3,2.3 0 1,0 4.6,0a2.3,2.3 0 1,0 -4.6,0M1196.1,722.0a2.3,2.3 0 1,0 4.6,0a2.3,2.3 0 1,0 -4.6,0M1198.4,726.5a2.3,2.3 0 1,0 4.6,0a2.3,2.3 0 1,0 -4.6,0M1200.8,726.6a2.3,2.3 0 1,0 4.6,0a2.3,2.3 0 1,0 -4.6,0M1203.1,726.9a2.3,2.3 0 1,0 4.6,0a2.3,2.3 0 1,0 -4.6,0M1205.5,722.0a2.3,2.3 0 1,0 4.6,0a2.3,2.3 0 1,0 -4.6,0M1207.9,726.1a2.3,2.3 0 1,0 4.6,0a2.3,2.3 0 1,0 -4.6,0M1210.2,726.0a2.3,2.3 0 1,0 4.6,0a2.3,2.3 0 1,0 -4.6,0M1212.6,726.9a2.3,2.3 0 1,0 4.6,0a2.3,2.3 0 1,0 -4.6,0M1214.9,725.9a2.3,2.3 0 1,0 4.6,0a2.3,2.3 0 1,0 -4.6,0M1217.3,722.0a2.3,2.3 0 1,0 4.6,0a2.3,2.3 0 1,0 -4.6,0M1219.7,726.7a2.3,2.3 0 1,0 4.6,0a2.3,2.3 0 1,0 -4.6,0M1222.0,727.0a2.3,2.3 0 1,0 4.6,0a2.3,2.3 0 1,0 -4.6,0M1224.4,726.6a2.3,2.3 0 1,0 4.6,0a2.3,2.3 0 1,0 -4.6,0M1226.8,725.9a2.3,2.3 0 1,0 4.6,0a2.3,2.3 0 1,0 -4.6,0M1229.1,722.0a2.3,2.3 0 1,0 4.6,0a2.3,2.3 0 1,0 -4.6,0M1231.5,726.1a2.3,2.3 0 1,0 4.6,0a2.3,2.3 0 1,0 -4.6,0M1233.8,725.9a2.3,2.3 0 1,0 4.6,0a2.3,2.3 0 1,0 -4.6,0M1236.2,726.7a2.3,2.3 0 1,0 4.6,0a2.3,2.3 0 1,0 -4.6,0M1238.6,727.0a2.3,2.3 0 1,0 4.6,0a2.3,2.3 0 1,0 -4.6,0M1240.9,722.0a2.3,2.3 0 1,0 4.6,0a2.3,2.3 0 1,0 -4.6,0M1243.3,726.7a2.3,2.3 0 1,0 4.6,0a2.3,2.3 0 1,0 -4.6,0M1245.6,726.7a2.3,2.3 0 1,0 4.6,0a2.3,2.3 0 1,0 -4.6,0M1248.0,726.4a2.3,2.3 0 1,0 4.6,0a2.3,2.3 0 1,0 -4.6,0M1250.4,722.0a2.3,2.3 0 1,0 4.6,0a2.3,2.3 0 1,0 -4.6,0M1252.7,726.0a2.3,2.3 0 1,0 4.6,0a2.3,2.3 0 1,0 -4.6,0M1255.1,726.5a2.3,2.3 0 1,0 4.6,0a2.3,2.3 0 1,0 -4.6,0M1257.4,727.0a2.3,2.3 0 1,0 4.6,0a2.3,2.3 0 1,0 -4.6,0M1259.8,726.1a2.3,2.3 0 1,0 4.6,0a2.3,2.3 0 1,0 -4.6,0M1262.2,722.0a2.3,2.3 0 1,0 4.6,0a2.3,2.3 0 1,0 -4.6,0M1264.5,726.4a2.3,2.3 0 1,0 4.6,0a2.3,2.3 0 1,0 -4.6,0M1266.9,726.1a2.3,2.3 0 1,0 4.6,0a2.3,2.3 0 1,0 -4.6,0M1269.2,727.0a2.3,2.3 0 1,0 4.6,0a2.3,2.3 0 1,0 -4.6,0M1271.6,726.1a2.3,2.3 0 1,0 4.6,0a2.3,2.3 0 1,0 -4.6,0M1274.0,726.5a2.3,2.3 0 1,0 4.6,0a2.3,2.3 0 1,0 -4.6,0M1276.3,722.0a2.3,2.3 0 1,0 4.6,0a2.3,2.3 0 1,0 -4.6,0M1278.7,726.4a2.3,2.3 0 1,0 4.6,0a2.3,2.3 0 1,0 -4.6,0M1281.0,725.9a2.3,2.3 0 1,0 4.6,0a2.3,2.3 0 1,0 -4.6,0M1283.4,726.4a2.3,2.3 0 1,0 4.6,0a2.3,2.3 0 1,0 -4.6,0M1285.8,726.9a2.3,2.3 0 1,0 4.6,0a2.3,2.3 0 1,0 -4.6,0M1288.1,722.0a2.3,2.3 0 1,0 4.6,0a2.3,2.3 0 1,0 -4.6,0M1290.5,726.7a2.3,2.3 0 1,0 4.6,0a2.3,2.3 0 1,0 -4.6,0M1292.8,726.1a2.3,2.3 0 1,0 4.6,0a2.3,2.3 0 1,0 -4.6,0M1295.2,725.8a2.3,2.3 0 1,0 4.6,0a2.3,2.3 0 1,0 -4.6,0M1297.6,726.7a2.3,2.3 0 1,0 4.6,0a2.3,2.3 0 1,0 -4.6,0M1299.9,722.0a2.3,2.3 0 1,0 4.6,0a2.3,2.3 0 1,0 -4.6,0M1302.3,726.4a2.3,2.3 0 1,0 4.6,0a2.3,2.3 0 1,0 -4.6,0M1304.6,726.2a2.3,2.3 0 1,0 4.6,0a2.3,2.3 0 1,0 -4.6,0M1307.0,726.9a2.3,2.3 0 1,0 4.6,0a2.3,2.3 0 1,0 -4.6,0M1309.4,726.2a2.3,2.3 0 1,0 4.6,0a2.3,2.3 0 1,0 -4.6,0M1311.7,722.0a2.3,2.3 0 1,0 4.6,0a2.3,2.3 0 1,0 -4.6,0M1314.1,725.9a2.3,2.3 0 1,0 4.6,0a2.3,2.3 0 1,0 -4.6,0M1316.5,726.4a2.3,2.3 0 1,0 4.6,0a2.3,2.3 0 1,0 -4.6,0M1318.8,726.8a2.3,2.3 0 1,0 4.6,0a2.3,2.3 0 1,0 -4.6,0M1321.2,725.9a2.3,2.3 0 1,0 4.6,0a2.3,2.3 0 1,0 -4.6,0M1323.5,725.8a2.3,2.3 0 1,0 4.6,0a2.3,2.3 0 1,0 -4.6,0M1325.9,722.0a2.3,2.3 0 1,0 4.6,0a2.3,2.3 0 1,0 -4.6,0M1328.3,726.4a2.3,2.3 0 1,0 4.6,0a2.3,2.3 0 1,0 -4.6,0M1330.6,726.8a2.3,2.3 0 1,0 4.6,0a2.3,2.3 0 1,0 -4.6,0M1333.0,726.8a2.3,2.3 0 1,0 4.6,0a2.3,2.3 0 1,0 -4.6,0M1335.3,722.0a2.3,2.3 0 1,0 4.6,0a2.3,2.3 0 1,0 -4.6,0M1337.7,726.8a2.3,2.3 0 1,0 4.6,0a2.3,2.3 0 1,0 -4.6,0M1340.1,726.7a2.3,2.3 0 1,0 4.6,0a2.3,2.3 0 1,0 -4.6,0M1342.4,726.3a2.3,2.3 0 1,0 4.6,0a2.3,2.3 0 1,0 -4.6,0M1344.8,725.9a2.3,2.3 0 1,0 4.6,0a2.3,2.3 0 1,0 -4.6,0M1347.1,722.0a2.3,2.3 0 1,0 4.6,0a2.3,2.3 0 1,0 -4.6,0M1349.5,729.0a2.3,2.3 0 1,0 4.6,0a2.3,2.3 0 1,0 -4.6,0M1351.9,726.1a2.3,2.3 0 1,0 4.6,0a2.3,2.3 0 1,0 -4.6,0M1354.2,726.8a2.3,2.3 0 1,0 4.6,0a2.3,2.3 0 1,0 -4.6,0M1356.6,726.7a2.3,2.3 0 1,0 4.6,0a2.3,2.3 0 1,0 -4.6,0M1358.9,722.0a2.3,2.3 0 1,0 4.6,0a2.3,2.3 0 1,0 -4.6,0M1361.3,726.7a2.3,2.3 0 1,0 4.6,0a2.3,2.3 0 1,0 -4.6,0M1363.7,725.8a2.3,2.3 0 1,0 4.6,0a2.3,2.3 0 1,0 -4.6,0M1366.0,726.9a2.3,2.3 0 1,0 4.6,0a2.3,2.3 0 1,0 -4.6,0M1368.4,726.4a2.3,2.3 0 1,0 4.6,0a2.3,2.3 0 1,0 -4.6,0M1370.7,722.0a2.3,2.3 0 1,0 4.6,0a2.3,2.3 0 1,0 -4.6,0M1373.1,727.0a2.3,2.3 0 1,0 4.6,0a2.3,2.3 0 1,0 -4.6,0M1375.5,725.9a2.3,2.3 0 1,0 4.6,0a2.3,2.3 0 1,0 -4.6,0M1377.8,726.6a2.3,2.3 0 1,0 4.6,0a2.3,2.3 0 1,0 -4.6,0M1380.2,722.0a2.3,2.3 0 1,0 4.6,0a2.3,2.3 0 1,0 -4.6,0M1382.5,725.8a2.3,2.3 0 1,0 4.6,0a2.3,2.3 0 1,0 -4.6,0M1384.9,726.0a2.3,2.3 0 1,0 4.6,0a2.3,2.3 0 1,0 -4.6,0M1387.3,725.9a2.3,2.3 0 1,0 4.6,0a2.3,2.3 0 1,0 -4.6,0M1389.6,727.1a2.3,2.3 0 1,0 4.6,0a2.3,2.3 0 1,0 -4.6,0M1392.0,722.0a2.3,2.3 0 1,0 4.6,0a2.3,2.3 0 1,0 -4.6,0M1394.3,725.8a2.3,2.3 0 1,0 4.6,0a2.3,2.3 0 1,0 -4.6,0M1396.7,729.0a2.3,2.3 0 1,0 4.6,0a2.3,2.3 0 1,0 -4.6,0M1399.1,727.0a2.3,2.3 0 1,0 4.6,0a2.3,2.3 0 1,0 -4.6,0M1401.4,725.8a2.3,2.3 0 1,0 4.6,0a2.3,2.3 0 1,0 -4.6,0M1403.8,722.0a2.3,2.3 0 1,0 4.6,0a2.3,2.3 0 1,0 -4.6,0M1406.2,725.9a2.3,2.3 0 1,0 4.6,0a2.3,2.3 0 1,0 -4.6,0M1408.5,725.8a2.3,2.3 0 1,0 4.6,0a2.3,2.3 0 1,0 -4.6,0M1410.9,726.7a2.3,2.3 0 1,0 4.6,0a2.3,2.3 0 1,0 -4.6,0M1413.2,726.9a2.3,2.3 0 1,0 4.6,0a2.3,2.3 0 1,0 -4.6,0M1415.6,726.9a2.3,2.3 0 1,0 4.6,0a2.3,2.3 0 1,0 -4.6,0M1418.0,722.0a2.3,2.3 0 1,0 4.6,0a2.3,2.3 0 1,0 -4.6,0M1420.3,725.8a2.3,2.3 0 1,0 4.6,0a2.3,2.3 0 1,0 -4.6,0M1422.7,726.1a2.3,2.3 0 1,0 4.6,0a2.3,2.3 0 1,0 -4.6,0M1425.0,726.2a2.3,2.3 0 1,0 4.6,0a2.3,2.3 0 1,0 -4.6,0M1427.4,722.0a2.3,2.3 0 1,0 4.6,0a2.3,2.3 0 1,0 -4.6,0M1429.8,727.0a2.3,2.3 0 1,0 4.6,0a2.3,2.3 0 1,0 -4.6,0M1432.1,726.0a2.3,2.3 0 1,0 4.6,0a2.3,2.3 0 1,0 -4.6,0M1434.5,727.1a2.3,2.3 0 1,0 4.6,0a2.3,2.3 0 1,0 -4.6,0M1436.8,726.9a2.3,2.3 0 1,0 4.6,0a2.3,2.3 0 1,0 -4.6,0M1439.2,722.0a2.3,2.3 0 1,0 4.6,0a2.3,2.3 0 1,0 -4.6,0M1441.6,726.2a2.3,2.3 0 1,0 4.6,0a2.3,2.3 0 1,0 -4.6,0M1443.9,726.7a2.3,2.3 0 1,0 4.6,0a2.3,2.3 0 1,0 -4.6,0M1446.3,726.9a2.3,2.3 0 1,0 4.6,0a2.3,2.3 0 1,0 -4.6,0M1448.6,722.0a2.3,2.3 0 1,0 4.6,0a2.3,2.3 0 1,0 -4.6,0M1451.0,726.2a2.3,2.3 0 1,0 4.6,0a2.3,2.3 0 1,0 -4.6,0M1453.4,726.9a2.3,2.3 0 1,0 4.6,0a2.3,2.3 0 1,0 -4.6,0M1455.7,727.0a2.3,2.3 0 1,0 4.6,0a2.3,2.3 0 1,0 -4.6,0M1458.1,734.0a2.3,2.3 0 1,0 4.6,0a2.3,2.3 0 1,0 -4.6,0M1460.4,722.0a2.3,2.3 0 1,0 4.6,0a2.3,2.3 0 1,0 -4.6,0M1462.8,726.7a2.3,2.3 0 1,0 4.6,0a2.3,2.3 0 1,0 -4.6,0M1465.2,734.0a2.3,2.3 0 1,0 4.6,0a2.3,2.3 0 1,0 -4.6,0M1467.5,727.1a2.3,2.3 0 1,0 4.6,0a2.3,2.3 0 1,0 -4.6,0M1469.9,726.4a2.3,2.3 0 1,0 4.6,0a2.3,2.3 0 1,0 -4.6,0M1472.2,722.0a2.3,2.3 0 1,0 4.6,0a2.3,2.3 0 1,0 -4.6,0M1474.6,725.8a2.3,2.3 0 1,0 4.6,0a2.3,2.3 0 1,0 -4.6,0M1477.0,726.2a2.3,2.3 0 1,0 4.6,0a2.3,2.3 0 1,0 -4.6,0M1479.3,725.9a2.3,2.3 0 1,0 4.6,0a2.3,2.3 0 1,0 -4.6,0M1481.7,726.4a2.3,2.3 0 1,0 4.6,0a2.3,2.3 0 1,0 -4.6,0M1484.0,722.0a2.3,2.3 0 1,0 4.6,0a2.3,2.3 0 1,0 -4.6,0M1486.4,729.0a2.3,2.3 0 1,0 4.6,0a2.3,2.3 0 1,0 -4.6,0M1488.8,726.5a2.3,2.3 0 1,0 4.6,0a2.3,2.3 0 1,0 -4.6,0M1491.1,726.2a2.3,2.3 0 1,0 4.6,0a2.3,2.3 0 1,0 -4.6,0M1493.5,722.0a2.3,2.3 0 1,0 4.6,0a2.3,2.3 0 1,0 -4.6,0M1495.9,726.4a2.3,2.3 0 1,0 4.6,0a2.3,2.3 0 1,0 -4.6,0M1498.2,726.2a2.3,2.3 0 1,0 4.6,0a2.3,2.3 0 1,0 -4.6,0M1500.6,726.5a2.3,2.3 0 1,0 4.6,0a2.3,2.3 0 1,0 -4.6,0M1502.9,722.0a2.3,2.3 0 1,0 4.6,0a2.3,2.3 0 1,0 -4.6,0M1505.3,725.9a2.3,2.3 0 1,0 4.6,0a2.3,2.3 0 1,0 -4.6,0M1507.7,726.8a2.3,2.3 0 1,0 4.6,0a2.3,2.3 0 1,0 -4.6,0M1510.0,727.0a2.3,2.3 0 1,0 4.6,0a2.3,2.3 0 1,0 -4.6,0M1512.4,726.6a2.3,2.3 0 1,0 4.6,0a2.3,2.3 0 1,0 -4.6,0M1514.7,722.0a2.3,2.3 0 1,0 4.6,0a2.3,2.3 0 1,0 -4.6,0M1517.1,726.8a2.3,2.3 0 1,0 4.6,0a2.3,2.3 0 1,0 -4.6,0M1519.5,729.0a2.3,2.3 0 1,0 4.6,0a2.3,2.3 0 1,0 -4.6,0M1521.8,726.1a2.3,2.3 0 1,0 4.6,0a2.3,2.3 0 1,0 -4.6,0M1524.2,726.4a2.3,2.3 0 1,0 4.6,0a2.3,2.3 0 1,0 -4.6,0M1526.5,722.0a2.3,2.3 0 1,0 4.6,0a2.3,2.3 0 1,0 -4.6,0M1528.9,726.7a2.3,2.3 0 1,0 4.6,0a2.3,2.3 0 1,0 -4.6,0M1531.3,726.0a2.3,2.3 0 1,0 4.6,0a2.3,2.3 0 1,0 -4.6,0M1533.6,726.8a2.3,2.3 0 1,0 4.6,0a2.3,2.3 0 1,0 -4.6,0M1536.0,722.0a2.3,2.3 0 1,0 4.6,0a2.3,2.3 0 1,0 -4.6,0M1538.3,726.9a2.3,2.3 0 1,0 4.6,0a2.3,2.3 0 1,0 -4.6,0M1540.7,726.3a2.3,2.3 0 1,0 4.6,0a2.3,2.3 0 1,0 -4.6,0" fill="#a8309f"/>
<path d="M1545.0,834.3 A6.2,6.2 0 0 0 1545.0,846.7 Z" fill="#f08080" fill-opacity="0.5"/>
<text transform="translate(53.5,855) rotate(-90)" text-anchor="middle" font-size="14" font-weight="bold" fill="#222">FPS</text>
<text transform="translate(1580,824.5) rotate(90)" text-anchor="middle" font-size="14" font-weight="bold" fill="#222">Jank</text>
</svg>

<!-- hidden metrics row (clipped) + link -->
<div class="abs" style="left:60px;top:530px;width:200px;height:18px;overflow:hidden">
  <div class="abs lbl" style="left:8px;top:11px">Delta(FTime)&gt;100ms[/h]</div>
  <div class="abs q" style="left:168px;top:9px">?</div>
</div>
<div class="abs" style="left:69px;top:532px;font-size:14px;color:#3a5bd0;background:transparent">查看更多指标</div>
<svg class="abs" style="left:163px;top:538px" width="12" height="10"><path d="M1,2 H10 L5.5,8 Z" fill="#3a5bd0"/></svg>

<!-- chart controls -->
<div class="abs" style="left:1292px;top:591.5px;font-size:14.5px;color:#222">FPS(&gt;=)</div>
<div class="abs" style="left:1358px;top:588px;width:64px;height:23.5px;border:1px solid #bbb;background:#fff;font-size:14.5px;color:#222;text-align:center;line-height:21.5px">18</div>
<div class="abs" style="left:1433px;top:588px;width:64.5px;height:23.5px;border:1px solid #bbb;background:#fff;font-size:14.5px;color:#222;text-align:center;line-height:21.5px">25</div>
<div class="abs" style="left:1518px;top:588.5px;font-size:13px;color:#3a5bd0;-webkit-text-stroke:0.2px #3a5bd0">重置</div>

<!-- slider -->
<div class="abs" style="left:122px;top:1025px;width:1391px;height:17.3px;background:linear-gradient(#6cc0ff 0,#3aa0f4 12%,#2f95ef 60%,#2a8ee8 100%)"></div>
<div class="abs" style="left:96px;top:1022px;width:26px;height:23.5px;border:1px solid #8a8a8a;border-radius:2px;background:linear-gradient(90deg,#e9e9ec,#d4d4d8)"></div>
<div class="abs" style="left:1513px;top:1022px;width:27px;height:23.5px;border:1px solid #8a8a8a;border-radius:2px;background:linear-gradient(90deg,#e9e9ec,#d4d4d8)"></div>
<svg class="abs" style="left:96px;top:1022px" width="26" height="24"><g fill="#505468"><rect x="8" y="6.7" width="1.8" height="10"/><rect x="11.8" y="6.7" width="1.8" height="10"/><rect x="15.6" y="6.7" width="1.8" height="10"/></g></svg>
<svg class="abs" style="left:1513px;top:1022px" width="27" height="24"><g fill="#505468"><rect x="8.5" y="6.7" width="1.8" height="10"/><rect x="12.3" y="6.7" width="1.8" height="10"/><rect x="16.1" y="6.7" width="1.8" height="10"/></g></svg>

<!-- legend -->
<svg class="abs" style="left:570px;top:1052px" width="420" height="24" fill="none" stroke-width="2.5">
  <line x1="10.4" y1="12" x2="30" y2="12" stroke="#a93bb5"/><circle cx="20.2" cy="12" r="3.2" fill="#fff" stroke="#a93bb5" stroke-width="2"/>
  <line x1="95" y1="12" x2="114.6" y2="12" stroke="#e0782c"/><circle cx="104.8" cy="12" r="3.2" fill="#fff" stroke="#e0782c" stroke-width="2"/>
  <line x1="182.5" y1="12" x2="201.3" y2="12" stroke="#d42f2f"/>
  <line x1="290.4" y1="12" x2="310" y2="12" stroke="#4a88dc"/>
  <line x1="389.8" y1="12" x2="409.3" y2="12" stroke="#40c8c8"/>
</svg>
<div class="abs legend" style="left:612px">FPS</div>
<div class="abs legend" style="left:697px">Jank</div>
<div class="abs legend" style="left:784px">BigJank</div>
<div class="abs legend" style="left:892px">Stutter</div>
<div class="abs legend" style="left:991.5px">InterFrame</div>
<div class="abs" style="left:1413px;top:1079px;width:65px;height:1px;background:#bbb"></div>

</body></html>
